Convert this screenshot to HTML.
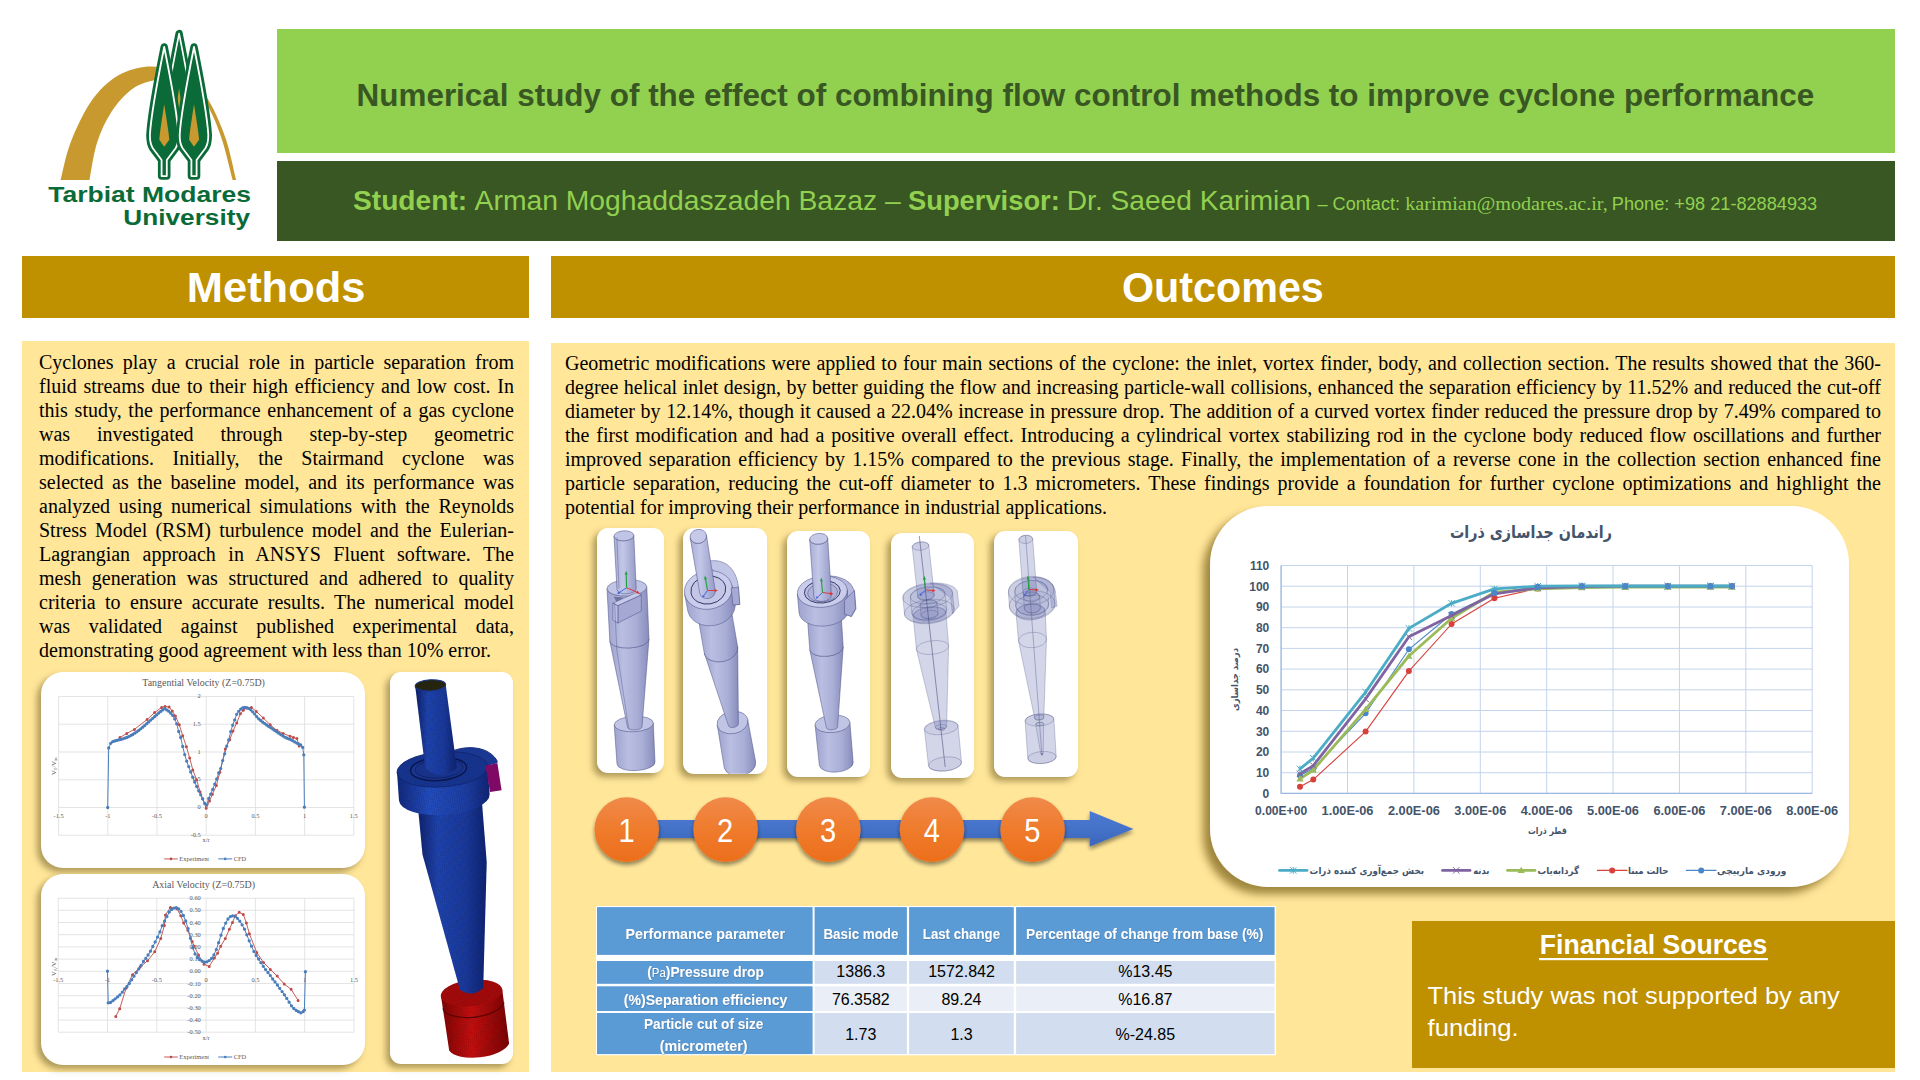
<!DOCTYPE html>
<html lang="en">
<head>
<meta charset="utf-8">
<title>Numerical study of the effect of combining flow control methods to improve cyclone performance</title>
<style>
html,body{margin:0;padding:0;}
body{width:1920px;height:1080px;position:relative;overflow:hidden;background:#fff;font-family:"Liberation Sans","DejaVu Sans",sans-serif;}
.abs{position:absolute;}
.bar-title{left:277px;top:29px;width:1618px;height:124px;background:#92D050;}
.bar-names{left:277px;top:161px;width:1618px;height:80px;background:#385723;}
.hdr{background:#BF9000;top:256px;height:62px;}
.hdr-m{left:22px;width:507px;}
.hdr-o{left:551px;width:1344px;}
.panel{background:#FFE699;}
.panel-m{left:22px;top:341px;width:507px;height:731px;}
.panel-o{left:551px;top:343px;width:1344px;height:729px;}
.para{font-family:"Liberation Serif",serif;font-size:20px;line-height:24px;color:#000;text-align:justify;margin:0;}
.para-m{left:39px;top:350px;width:475px;}
.para-o{left:565px;top:351px;width:1316px;}
.card{background:#fff;box-shadow:-4px 4px 6px rgba(95,78,25,.5);}
.fin{left:1412px;top:921px;width:483px;height:147px;background:#BF9000;}
svg{position:absolute;left:0;top:0;overflow:visible;}
svg text{font-family:"Liberation Sans","DejaVu Sans",sans-serif;}
svg text.fa{font-family:"DejaVu Sans","Liberation Sans",sans-serif;}
svg.ser text{font-family:"Liberation Serif",serif;}
</style>
</head>
<body>
<div class="abs bar-title"></div>
<div class="abs bar-names"></div>
<div class="abs hdr hdr-m"></div>
<div class="abs hdr hdr-o"></div>
<div class="abs panel panel-m"></div>
<div class="abs panel panel-o"></div>

<p class="abs para para-m">Cyclones play a crucial role in particle separation from fluid streams due to their high efficiency and low cost. In this study, the performance enhancement of a gas cyclone was investigated through step-by-step geometric modifications. Initially, the Stairmand cyclone was selected as the baseline model, and its performance was analyzed using numerical simulations with the Reynolds Stress Model (RSM) turbulence model and the Eulerian-Lagrangian approach in ANSYS Fluent software. The mesh generation was structured and adhered to quality criteria to ensure accurate results. The numerical model was validated against published experimental data, demonstrating good agreement with less than 10% error.</p>

<p class="abs para para-o">Geometric modifications were applied to four main sections of the cyclone: the inlet, vortex finder, body, and collection section. The results showed that the 360-degree helical inlet design, by better guiding the flow and increasing particle-wall collisions, enhanced the separation efficiency by 11.52% and reduced the cut-off diameter by 12.14%, though it caused a 22.04% increase in pressure drop. The addition of a curved vortex finder reduced the pressure drop by 7.49% compared to the first modification and had a positive overall effect. Introducing a cylindrical vortex stabilizing rod in the cyclone body reduced flow oscillations and further improved separation efficiency by 1.15% compared to the previous stage. Finally, the implementation of a reverse cone in the collection section enhanced fine particle separation, reducing the cut-off diameter to 1.3 micrometers. These findings provide a foundation for further cyclone optimizations and highlight the potential for improving their performance in industrial applications.</p>

<div class="abs fin"></div>


<!-- LOGO -->
<svg id="logo" width="1920" height="1080" viewBox="0 0 1920 1080">
<path fill="#C8992E" d="M60.6,180C62.3,173.7 65.6,155.3 70.7,142.2C75.8,129.1 83.6,112.4 91.1,101.5C98.6,90.6 106.8,82.8 115.6,77C124.4,71.2 134.7,68.1 144.1,66.9C153.5,65.7 163.8,67.3 172,70C180.2,72.7 186.8,77.8 193,83C199.2,88.2 203.9,92.3 209.3,101.5C214.7,110.7 221.1,125.1 225.6,138.2C230.1,151.3 234.4,173 236.2,180L232.7,180C230.8,173 225.7,150.6 221.5,138.2C217.3,125.8 212.6,114 207.3,105.6C202.1,97.2 196.2,92.3 190,88C183.8,83.7 176.3,81.2 170,80C163.7,78.8 158.5,79.2 152.2,80.7C145.8,82.2 138.7,84.1 131.9,89.3C125.1,94.5 117.3,102.9 111.5,111.7C105.7,120.5 100.9,130.8 97.2,142.2C93.5,153.6 90.8,173.7 89.5,180Z"/>
<defs>
<path id="tree" d="M0,0C-2.6,13 -13.2,68 -14.3,88C-14.4,96 -12.8,99 -11.4,101.3L-2.6,113L-2.6,129.1L2.6,129.1L2.6,113L11.4,101.3C12.8,99 14.4,96 14.3,88C13.2,68 2.6,13 0,0Z"/>
<path id="flame" d="M0,0C1.5,10 4.6,28 5.1,35.4L0,42.5L-4.9,35.4C-4.4,28 -1.5,10 0,0Z"/>
<clipPath id="midclip"><rect x="150" y="20" width="60" height="128"/></clipPath>
</defs>
<g stroke-linejoin="round">
<g clip-path="url(#midclip)"><g transform="translate(179.1,33.6) scale(1.12,1.12)">
<use href="#tree" fill="#0B6B38" stroke="#0B6B38" stroke-width="6.6"/>
<use href="#tree" fill="#0B6B38" stroke="#fff" stroke-width="1.5"/>
</g></g>
<path fill="#C8992E" d="M179.1,88.5C181,100 184,125 184.8,136L179.1,143L173.4,136C174.2,125 177.2,100 179.1,88.5Z"/>
<g transform="translate(164.2,47)">
<use href="#tree" fill="#0B6B38" stroke="#0B6B38" stroke-width="7.4"/>
<use href="#tree" fill="#0B6B38" stroke="#fff" stroke-width="1.8"/>
<use href="#flame" y="57.3" fill="#C8992E"/>
</g>
<g transform="translate(194,47)">
<use href="#tree" fill="#0B6B38" stroke="#0B6B38" stroke-width="7.4"/>
<use href="#tree" fill="#0B6B38" stroke="#fff" stroke-width="1.8"/>
<use href="#flame" y="57.3" fill="#C8992E"/>
</g>
</g>
<g fill="#0B6B38" font-weight="700">
<text x="48.3" y="202.4" font-size="21.4" textLength="202.7" lengthAdjust="spacingAndGlyphs">Tarbiat Modares</text>
<text x="123.3" y="224.8" font-size="21.4" textLength="126.7" lengthAdjust="spacingAndGlyphs">University</text>
</g>
</svg>

<!-- METHODS CHARTS -->
<div class="abs card" style="left:41px;top:672px;width:323.5px;height:196px;border-radius:22px"></div>
<div class="abs card" style="left:41px;top:873.7px;width:323.5px;height:191.8px;border-radius:22px"></div>
<svg id="mcharts" class="ser" width="1920" height="1080" viewBox="0 0 1920 1080">
<g fill="#595959">
<path d="M58.6,696.5V835.2M107.8,696.5V835.2M157,696.5V835.2M206.2,696.5V835.2M255.4,696.5V835.2M304.6,696.5V835.2M353.8,696.5V835.2M58.6,835.2H353.8M58.6,807.5H353.8M58.6,779.8H353.8M58.6,752H353.8M58.6,724.2H353.8M58.6,696.5H353.8" stroke="#D9D9D9" stroke-width="0.7" fill="none"/>
<text x="203.6" y="686" font-size="9.95" text-anchor="middle">Tangential Velocity (Z=0.75D)</text>
<g font-size="6.4"><text x="58.6" y="818" text-anchor="middle">-1.5</text><text x="107.8" y="818" text-anchor="middle">-1</text><text x="157" y="818" text-anchor="middle">-0.5</text><text x="206.2" y="818" text-anchor="middle">0</text><text x="255.4" y="818" text-anchor="middle">0.5</text><text x="304.6" y="818" text-anchor="middle">1</text><text x="353.8" y="818" text-anchor="middle">1.5</text><text x="200.8" y="836.9" text-anchor="end">-0.5</text><text x="200.8" y="809.1" text-anchor="end">0</text><text x="200.8" y="781.4" text-anchor="end">0.5</text><text x="200.8" y="753.6" text-anchor="end">1</text><text x="200.8" y="725.9" text-anchor="end">1.5</text><text x="200.8" y="698.1" text-anchor="end">2</text></g>
<text x="206" y="842" font-size="6.4" text-anchor="middle">x/r</text>
<text transform="translate(56,775) rotate(-90)" font-size="6.6">V<tspan font-size="4.4" dy="1.4">T</tspan><tspan dy="-1.4">/V</tspan><tspan font-size="4.4" dy="1.4">in</tspan></text>
<path d="M119.9,737.5L126.8,733.4L134.4,729.4L147.1,719.5L154.6,712.6L161.6,707.4L165,706.6L169.1,707.1L172.3,711.1L175.4,716L179.3,724.7L182.7,735.7L186.4,746.7L189.7,758.1L192.8,769.9L196.6,779.7L200.1,791.9L202.6,798.8L206.2,808.3L209.5,801.1L212.4,794.2L216.4,785.5L219.9,772.2L225.3,749L229.7,739.8L233,731.1L236.7,723L240.4,713.7L243.4,710.3L246.5,707.9L251.4,707.4L256.3,711.4L263.3,718.1L270.2,724.7L276.9,730.5L283.2,733.4L290.1,736.3L293.4,737.5L296.9,738.6L299.2,745.9" fill="none" stroke="#BE4B48" stroke-width="0.9" stroke-linejoin="round"/><path d="M119.9,737.5m-1.5,0a1.5,1.5 0 1,0 3.0,0a1.5,1.5 0 1,0 -3.0,0M126.8,733.4m-1.5,0a1.5,1.5 0 1,0 3.0,0a1.5,1.5 0 1,0 -3.0,0M134.4,729.4m-1.5,0a1.5,1.5 0 1,0 3.0,0a1.5,1.5 0 1,0 -3.0,0M147.1,719.5m-1.5,0a1.5,1.5 0 1,0 3.0,0a1.5,1.5 0 1,0 -3.0,0M154.6,712.6m-1.5,0a1.5,1.5 0 1,0 3.0,0a1.5,1.5 0 1,0 -3.0,0M161.6,707.4m-1.5,0a1.5,1.5 0 1,0 3.0,0a1.5,1.5 0 1,0 -3.0,0M165,706.6m-1.5,0a1.5,1.5 0 1,0 3.0,0a1.5,1.5 0 1,0 -3.0,0M169.1,707.1m-1.5,0a1.5,1.5 0 1,0 3.0,0a1.5,1.5 0 1,0 -3.0,0M172.3,711.1m-1.5,0a1.5,1.5 0 1,0 3.0,0a1.5,1.5 0 1,0 -3.0,0M175.4,716m-1.5,0a1.5,1.5 0 1,0 3.0,0a1.5,1.5 0 1,0 -3.0,0M179.3,724.7m-1.5,0a1.5,1.5 0 1,0 3.0,0a1.5,1.5 0 1,0 -3.0,0M182.7,735.7m-1.5,0a1.5,1.5 0 1,0 3.0,0a1.5,1.5 0 1,0 -3.0,0M186.4,746.7m-1.5,0a1.5,1.5 0 1,0 3.0,0a1.5,1.5 0 1,0 -3.0,0M189.7,758.1m-1.5,0a1.5,1.5 0 1,0 3.0,0a1.5,1.5 0 1,0 -3.0,0M192.8,769.9m-1.5,0a1.5,1.5 0 1,0 3.0,0a1.5,1.5 0 1,0 -3.0,0M196.6,779.7m-1.5,0a1.5,1.5 0 1,0 3.0,0a1.5,1.5 0 1,0 -3.0,0M200.1,791.9m-1.5,0a1.5,1.5 0 1,0 3.0,0a1.5,1.5 0 1,0 -3.0,0M202.6,798.8m-1.5,0a1.5,1.5 0 1,0 3.0,0a1.5,1.5 0 1,0 -3.0,0M206.2,808.3m-1.5,0a1.5,1.5 0 1,0 3.0,0a1.5,1.5 0 1,0 -3.0,0M209.5,801.1m-1.5,0a1.5,1.5 0 1,0 3.0,0a1.5,1.5 0 1,0 -3.0,0M212.4,794.2m-1.5,0a1.5,1.5 0 1,0 3.0,0a1.5,1.5 0 1,0 -3.0,0M216.4,785.5m-1.5,0a1.5,1.5 0 1,0 3.0,0a1.5,1.5 0 1,0 -3.0,0M219.9,772.2m-1.5,0a1.5,1.5 0 1,0 3.0,0a1.5,1.5 0 1,0 -3.0,0M225.3,749m-1.5,0a1.5,1.5 0 1,0 3.0,0a1.5,1.5 0 1,0 -3.0,0M229.7,739.8m-1.5,0a1.5,1.5 0 1,0 3.0,0a1.5,1.5 0 1,0 -3.0,0M233,731.1m-1.5,0a1.5,1.5 0 1,0 3.0,0a1.5,1.5 0 1,0 -3.0,0M236.7,723m-1.5,0a1.5,1.5 0 1,0 3.0,0a1.5,1.5 0 1,0 -3.0,0M240.4,713.7m-1.5,0a1.5,1.5 0 1,0 3.0,0a1.5,1.5 0 1,0 -3.0,0M243.4,710.3m-1.5,0a1.5,1.5 0 1,0 3.0,0a1.5,1.5 0 1,0 -3.0,0M246.5,707.9m-1.5,0a1.5,1.5 0 1,0 3.0,0a1.5,1.5 0 1,0 -3.0,0M251.4,707.4m-1.5,0a1.5,1.5 0 1,0 3.0,0a1.5,1.5 0 1,0 -3.0,0M256.3,711.4m-1.5,0a1.5,1.5 0 1,0 3.0,0a1.5,1.5 0 1,0 -3.0,0M263.3,718.1m-1.5,0a1.5,1.5 0 1,0 3.0,0a1.5,1.5 0 1,0 -3.0,0M270.2,724.7m-1.5,0a1.5,1.5 0 1,0 3.0,0a1.5,1.5 0 1,0 -3.0,0M276.9,730.5m-1.5,0a1.5,1.5 0 1,0 3.0,0a1.5,1.5 0 1,0 -3.0,0M283.2,733.4m-1.5,0a1.5,1.5 0 1,0 3.0,0a1.5,1.5 0 1,0 -3.0,0M290.1,736.3m-1.5,0a1.5,1.5 0 1,0 3.0,0a1.5,1.5 0 1,0 -3.0,0M293.4,737.5m-1.5,0a1.5,1.5 0 1,0 3.0,0a1.5,1.5 0 1,0 -3.0,0M296.9,738.6m-1.5,0a1.5,1.5 0 1,0 3.0,0a1.5,1.5 0 1,0 -3.0,0M299.2,745.9m-1.5,0a1.5,1.5 0 1,0 3.0,0a1.5,1.5 0 1,0 -3.0,0" fill="#BE4B48"/>
<path d="M107.7,807.5L108.7,747.9L110.7,743.3L112.7,741.6L114.7,741L116.7,740.4L118.7,739.9L120.7,739.4L122.7,738.8L124.7,738.2L126.7,737.5L128.7,736.6L130.7,735.6L132.7,734.5L134.7,733.2L136.7,731.9L138.7,730.4L140.7,728.8L142.7,727.2L144.7,725.5L146.7,723.7L148.7,721.9L150.7,720.1L152.7,718.3L154.7,716.5L156.7,714.8L158.7,713L160.7,711.4L162.7,709.9L164.7,708.7L166.7,709.9L168.7,711.2L170.7,713.2L172.7,715.4L174.7,718.9L176.7,723.8L178.7,731.5L180.7,737.5L182.7,746.4L184.7,754.6L186.7,761.2L188.7,766.6L190.7,771.9L192.7,777.2L194.7,782L196.7,786.5L198.7,790.8L200.7,794.8L202.7,798.8L204.7,803.5L206.7,804.9L208.7,798.4L210.7,794.1L212.7,789.4L214.7,784.1L216.7,779L218.7,773L220.7,768.6L222.7,760.6L224.7,753.8L226.7,746.2L228.7,740L230.7,731.6L232.7,725.2L234.7,719.9L236.7,714.3L238.7,711.3L240.7,709.2L242.7,708L244.7,707.4L246.7,707.6L248.7,708.4L250.7,709.8L252.7,711.8L254.7,714.1L256.7,716.7L258.7,718.8L260.7,720.5L262.7,722.2L264.7,723.6L266.7,725L268.7,726.4L270.7,727.7L272.7,729L274.7,730.4L276.7,731.8L278.7,733.2L280.7,734.6L282.7,735.8L284.7,737.1L286.7,738L288.7,738.8L290.7,739.6L292.7,740.7L294.7,741.9L296.7,743.1L298.7,744L300.7,744.9L302.7,747.4L303.8,754.8L304.4,807.2" fill="none" stroke="#4A7EBB" stroke-width="1.0" stroke-linejoin="round"/><path d="M107.7,807.5m-1.65,0a1.65,1.65 0 1,0 3.3,0a1.65,1.65 0 1,0 -3.3,0M108.7,747.9m-1.65,0a1.65,1.65 0 1,0 3.3,0a1.65,1.65 0 1,0 -3.3,0M110.7,743.3m-1.65,0a1.65,1.65 0 1,0 3.3,0a1.65,1.65 0 1,0 -3.3,0M112.7,741.6m-1.65,0a1.65,1.65 0 1,0 3.3,0a1.65,1.65 0 1,0 -3.3,0M114.7,741m-1.65,0a1.65,1.65 0 1,0 3.3,0a1.65,1.65 0 1,0 -3.3,0M116.7,740.4m-1.65,0a1.65,1.65 0 1,0 3.3,0a1.65,1.65 0 1,0 -3.3,0M118.7,739.9m-1.65,0a1.65,1.65 0 1,0 3.3,0a1.65,1.65 0 1,0 -3.3,0M120.7,739.4m-1.65,0a1.65,1.65 0 1,0 3.3,0a1.65,1.65 0 1,0 -3.3,0M122.7,738.8m-1.65,0a1.65,1.65 0 1,0 3.3,0a1.65,1.65 0 1,0 -3.3,0M124.7,738.2m-1.65,0a1.65,1.65 0 1,0 3.3,0a1.65,1.65 0 1,0 -3.3,0M126.7,737.5m-1.65,0a1.65,1.65 0 1,0 3.3,0a1.65,1.65 0 1,0 -3.3,0M128.7,736.6m-1.65,0a1.65,1.65 0 1,0 3.3,0a1.65,1.65 0 1,0 -3.3,0M130.7,735.6m-1.65,0a1.65,1.65 0 1,0 3.3,0a1.65,1.65 0 1,0 -3.3,0M132.7,734.5m-1.65,0a1.65,1.65 0 1,0 3.3,0a1.65,1.65 0 1,0 -3.3,0M134.7,733.2m-1.65,0a1.65,1.65 0 1,0 3.3,0a1.65,1.65 0 1,0 -3.3,0M136.7,731.9m-1.65,0a1.65,1.65 0 1,0 3.3,0a1.65,1.65 0 1,0 -3.3,0M138.7,730.4m-1.65,0a1.65,1.65 0 1,0 3.3,0a1.65,1.65 0 1,0 -3.3,0M140.7,728.8m-1.65,0a1.65,1.65 0 1,0 3.3,0a1.65,1.65 0 1,0 -3.3,0M142.7,727.2m-1.65,0a1.65,1.65 0 1,0 3.3,0a1.65,1.65 0 1,0 -3.3,0M144.7,725.5m-1.65,0a1.65,1.65 0 1,0 3.3,0a1.65,1.65 0 1,0 -3.3,0M146.7,723.7m-1.65,0a1.65,1.65 0 1,0 3.3,0a1.65,1.65 0 1,0 -3.3,0M148.7,721.9m-1.65,0a1.65,1.65 0 1,0 3.3,0a1.65,1.65 0 1,0 -3.3,0M150.7,720.1m-1.65,0a1.65,1.65 0 1,0 3.3,0a1.65,1.65 0 1,0 -3.3,0M152.7,718.3m-1.65,0a1.65,1.65 0 1,0 3.3,0a1.65,1.65 0 1,0 -3.3,0M154.7,716.5m-1.65,0a1.65,1.65 0 1,0 3.3,0a1.65,1.65 0 1,0 -3.3,0M156.7,714.8m-1.65,0a1.65,1.65 0 1,0 3.3,0a1.65,1.65 0 1,0 -3.3,0M158.7,713m-1.65,0a1.65,1.65 0 1,0 3.3,0a1.65,1.65 0 1,0 -3.3,0M160.7,711.4m-1.65,0a1.65,1.65 0 1,0 3.3,0a1.65,1.65 0 1,0 -3.3,0M162.7,709.9m-1.65,0a1.65,1.65 0 1,0 3.3,0a1.65,1.65 0 1,0 -3.3,0M164.7,708.7m-1.65,0a1.65,1.65 0 1,0 3.3,0a1.65,1.65 0 1,0 -3.3,0M166.7,709.9m-1.65,0a1.65,1.65 0 1,0 3.3,0a1.65,1.65 0 1,0 -3.3,0M168.7,711.2m-1.65,0a1.65,1.65 0 1,0 3.3,0a1.65,1.65 0 1,0 -3.3,0M170.7,713.2m-1.65,0a1.65,1.65 0 1,0 3.3,0a1.65,1.65 0 1,0 -3.3,0M172.7,715.4m-1.65,0a1.65,1.65 0 1,0 3.3,0a1.65,1.65 0 1,0 -3.3,0M174.7,718.9m-1.65,0a1.65,1.65 0 1,0 3.3,0a1.65,1.65 0 1,0 -3.3,0M176.7,723.8m-1.65,0a1.65,1.65 0 1,0 3.3,0a1.65,1.65 0 1,0 -3.3,0M178.7,731.5m-1.65,0a1.65,1.65 0 1,0 3.3,0a1.65,1.65 0 1,0 -3.3,0M180.7,737.5m-1.65,0a1.65,1.65 0 1,0 3.3,0a1.65,1.65 0 1,0 -3.3,0M182.7,746.4m-1.65,0a1.65,1.65 0 1,0 3.3,0a1.65,1.65 0 1,0 -3.3,0M184.7,754.6m-1.65,0a1.65,1.65 0 1,0 3.3,0a1.65,1.65 0 1,0 -3.3,0M186.7,761.2m-1.65,0a1.65,1.65 0 1,0 3.3,0a1.65,1.65 0 1,0 -3.3,0M188.7,766.6m-1.65,0a1.65,1.65 0 1,0 3.3,0a1.65,1.65 0 1,0 -3.3,0M190.7,771.9m-1.65,0a1.65,1.65 0 1,0 3.3,0a1.65,1.65 0 1,0 -3.3,0M192.7,777.2m-1.65,0a1.65,1.65 0 1,0 3.3,0a1.65,1.65 0 1,0 -3.3,0M194.7,782m-1.65,0a1.65,1.65 0 1,0 3.3,0a1.65,1.65 0 1,0 -3.3,0M196.7,786.5m-1.65,0a1.65,1.65 0 1,0 3.3,0a1.65,1.65 0 1,0 -3.3,0M198.7,790.8m-1.65,0a1.65,1.65 0 1,0 3.3,0a1.65,1.65 0 1,0 -3.3,0M200.7,794.8m-1.65,0a1.65,1.65 0 1,0 3.3,0a1.65,1.65 0 1,0 -3.3,0M202.7,798.8m-1.65,0a1.65,1.65 0 1,0 3.3,0a1.65,1.65 0 1,0 -3.3,0M204.7,803.5m-1.65,0a1.65,1.65 0 1,0 3.3,0a1.65,1.65 0 1,0 -3.3,0M206.7,804.9m-1.65,0a1.65,1.65 0 1,0 3.3,0a1.65,1.65 0 1,0 -3.3,0M208.7,798.4m-1.65,0a1.65,1.65 0 1,0 3.3,0a1.65,1.65 0 1,0 -3.3,0M210.7,794.1m-1.65,0a1.65,1.65 0 1,0 3.3,0a1.65,1.65 0 1,0 -3.3,0M212.7,789.4m-1.65,0a1.65,1.65 0 1,0 3.3,0a1.65,1.65 0 1,0 -3.3,0M214.7,784.1m-1.65,0a1.65,1.65 0 1,0 3.3,0a1.65,1.65 0 1,0 -3.3,0M216.7,779m-1.65,0a1.65,1.65 0 1,0 3.3,0a1.65,1.65 0 1,0 -3.3,0M218.7,773m-1.65,0a1.65,1.65 0 1,0 3.3,0a1.65,1.65 0 1,0 -3.3,0M220.7,768.6m-1.65,0a1.65,1.65 0 1,0 3.3,0a1.65,1.65 0 1,0 -3.3,0M222.7,760.6m-1.65,0a1.65,1.65 0 1,0 3.3,0a1.65,1.65 0 1,0 -3.3,0M224.7,753.8m-1.65,0a1.65,1.65 0 1,0 3.3,0a1.65,1.65 0 1,0 -3.3,0M226.7,746.2m-1.65,0a1.65,1.65 0 1,0 3.3,0a1.65,1.65 0 1,0 -3.3,0M228.7,740m-1.65,0a1.65,1.65 0 1,0 3.3,0a1.65,1.65 0 1,0 -3.3,0M230.7,731.6m-1.65,0a1.65,1.65 0 1,0 3.3,0a1.65,1.65 0 1,0 -3.3,0M232.7,725.2m-1.65,0a1.65,1.65 0 1,0 3.3,0a1.65,1.65 0 1,0 -3.3,0M234.7,719.9m-1.65,0a1.65,1.65 0 1,0 3.3,0a1.65,1.65 0 1,0 -3.3,0M236.7,714.3m-1.65,0a1.65,1.65 0 1,0 3.3,0a1.65,1.65 0 1,0 -3.3,0M238.7,711.3m-1.65,0a1.65,1.65 0 1,0 3.3,0a1.65,1.65 0 1,0 -3.3,0M240.7,709.2m-1.65,0a1.65,1.65 0 1,0 3.3,0a1.65,1.65 0 1,0 -3.3,0M242.7,708m-1.65,0a1.65,1.65 0 1,0 3.3,0a1.65,1.65 0 1,0 -3.3,0M244.7,707.4m-1.65,0a1.65,1.65 0 1,0 3.3,0a1.65,1.65 0 1,0 -3.3,0M246.7,707.6m-1.65,0a1.65,1.65 0 1,0 3.3,0a1.65,1.65 0 1,0 -3.3,0M248.7,708.4m-1.65,0a1.65,1.65 0 1,0 3.3,0a1.65,1.65 0 1,0 -3.3,0M250.7,709.8m-1.65,0a1.65,1.65 0 1,0 3.3,0a1.65,1.65 0 1,0 -3.3,0M252.7,711.8m-1.65,0a1.65,1.65 0 1,0 3.3,0a1.65,1.65 0 1,0 -3.3,0M254.7,714.1m-1.65,0a1.65,1.65 0 1,0 3.3,0a1.65,1.65 0 1,0 -3.3,0M256.7,716.7m-1.65,0a1.65,1.65 0 1,0 3.3,0a1.65,1.65 0 1,0 -3.3,0M258.7,718.8m-1.65,0a1.65,1.65 0 1,0 3.3,0a1.65,1.65 0 1,0 -3.3,0M260.7,720.5m-1.65,0a1.65,1.65 0 1,0 3.3,0a1.65,1.65 0 1,0 -3.3,0M262.7,722.2m-1.65,0a1.65,1.65 0 1,0 3.3,0a1.65,1.65 0 1,0 -3.3,0M264.7,723.6m-1.65,0a1.65,1.65 0 1,0 3.3,0a1.65,1.65 0 1,0 -3.3,0M266.7,725m-1.65,0a1.65,1.65 0 1,0 3.3,0a1.65,1.65 0 1,0 -3.3,0M268.7,726.4m-1.65,0a1.65,1.65 0 1,0 3.3,0a1.65,1.65 0 1,0 -3.3,0M270.7,727.7m-1.65,0a1.65,1.65 0 1,0 3.3,0a1.65,1.65 0 1,0 -3.3,0M272.7,729m-1.65,0a1.65,1.65 0 1,0 3.3,0a1.65,1.65 0 1,0 -3.3,0M274.7,730.4m-1.65,0a1.65,1.65 0 1,0 3.3,0a1.65,1.65 0 1,0 -3.3,0M276.7,731.8m-1.65,0a1.65,1.65 0 1,0 3.3,0a1.65,1.65 0 1,0 -3.3,0M278.7,733.2m-1.65,0a1.65,1.65 0 1,0 3.3,0a1.65,1.65 0 1,0 -3.3,0M280.7,734.6m-1.65,0a1.65,1.65 0 1,0 3.3,0a1.65,1.65 0 1,0 -3.3,0M282.7,735.8m-1.65,0a1.65,1.65 0 1,0 3.3,0a1.65,1.65 0 1,0 -3.3,0M284.7,737.1m-1.65,0a1.65,1.65 0 1,0 3.3,0a1.65,1.65 0 1,0 -3.3,0M286.7,738m-1.65,0a1.65,1.65 0 1,0 3.3,0a1.65,1.65 0 1,0 -3.3,0M288.7,738.8m-1.65,0a1.65,1.65 0 1,0 3.3,0a1.65,1.65 0 1,0 -3.3,0M290.7,739.6m-1.65,0a1.65,1.65 0 1,0 3.3,0a1.65,1.65 0 1,0 -3.3,0M292.7,740.7m-1.65,0a1.65,1.65 0 1,0 3.3,0a1.65,1.65 0 1,0 -3.3,0M294.7,741.9m-1.65,0a1.65,1.65 0 1,0 3.3,0a1.65,1.65 0 1,0 -3.3,0M296.7,743.1m-1.65,0a1.65,1.65 0 1,0 3.3,0a1.65,1.65 0 1,0 -3.3,0M298.7,744m-1.65,0a1.65,1.65 0 1,0 3.3,0a1.65,1.65 0 1,0 -3.3,0M300.7,744.9m-1.65,0a1.65,1.65 0 1,0 3.3,0a1.65,1.65 0 1,0 -3.3,0M302.7,747.4m-1.65,0a1.65,1.65 0 1,0 3.3,0a1.65,1.65 0 1,0 -3.3,0M303.8,754.8m-1.65,0a1.65,1.65 0 1,0 3.3,0a1.65,1.65 0 1,0 -3.3,0M304.4,807.2m-1.65,0a1.65,1.65 0 1,0 3.3,0a1.65,1.65 0 1,0 -3.3,0" fill="#4A7EBB"/>
<path d="M164.2,858.9H177.8" stroke="#BE4B48" stroke-width="0.9"/><circle cx="171" cy="858.9" r="1.3" fill="#BE4B48"/><path d="M218.2,858.9H232.2" stroke="#4A7EBB" stroke-width="1"/><circle cx="225.2" cy="858.9" r="1.3" fill="#4A7EBB"/><text x="179.3" y="861.0" font-size="6.4">Experiment</text><text x="233.8" y="861.0" font-size="6.4">CFD</text>
<path d="M58.2,898.2V1032.2M107.5,898.2V1032.2M156.8,898.2V1032.2M206.1,898.2V1032.2M255.4,898.2V1032.2M304.7,898.2V1032.2M354,898.2V1032.2M58.2,1032.2H354M58.2,1020.1H354M58.2,1007.9H354M58.2,995.7H354M58.2,983.5H354M58.2,971.3H354M58.2,959.1H354M58.2,946.9H354M58.2,934.7H354M58.2,922.5H354M58.2,910.3H354M58.2,898.2H354" stroke="#D9D9D9" stroke-width="0.7" fill="none"/>
<text x="203.6" y="887.5" font-size="9.95" text-anchor="middle">Axial Velocity (Z=0.75D)</text>
<g font-size="6.4"><text x="58.2" y="982" text-anchor="middle">-1.5</text><text x="107.5" y="982" text-anchor="middle">-1</text><text x="156.8" y="982" text-anchor="middle">-0.5</text><text x="206.1" y="982" text-anchor="middle">0</text><text x="255.4" y="982" text-anchor="middle">0.5</text><text x="304.7" y="982" text-anchor="middle">1</text><text x="354" y="982" text-anchor="middle">1.5</text><text x="200.8" y="1034.2" text-anchor="end">-0.50</text><text x="200.8" y="1022.1" text-anchor="end">-0.40</text><text x="200.8" y="1009.9" text-anchor="end">-0.30</text><text x="200.8" y="997.7" text-anchor="end">-0.20</text><text x="200.8" y="985.5" text-anchor="end">-0.10</text><text x="200.8" y="973.3" text-anchor="end">0.00</text><text x="200.8" y="961.1" text-anchor="end">0.10</text><text x="200.8" y="948.9" text-anchor="end">0.20</text><text x="200.8" y="936.7" text-anchor="end">0.30</text><text x="200.8" y="924.5" text-anchor="end">0.40</text><text x="200.8" y="912.3" text-anchor="end">0.50</text><text x="200.8" y="900.2" text-anchor="end">0.60</text></g>
<text x="206" y="1040" font-size="6.4" text-anchor="middle">x/r</text>
<text transform="translate(56,976) rotate(-90)" font-size="6.6">V<tspan font-size="4.4" dy="1.4">A</tspan><tspan dy="-1.4">/V</tspan><tspan font-size="4.4" dy="1.4">in</tspan></text>
<path d="M115.8,1016.4L119.7,1008.8L126.2,987.9L132.5,974.7L140.1,967.1L147.5,960.8L154.7,951.8L160.7,938.6L164.4,925.4L165.4,915L170.4,907.4L176.9,908.8L180.8,915.7L183.6,922.9L187.8,930.3L192.2,941.4L194.3,946.2L198.5,955L204,964.3L209.2,966.4L214.4,958.1L217.6,953.2L220.7,946.2L225.3,938.6L229.4,929.2L232.5,922.4L235.3,915.7L239.2,912.2L243.3,914.6L246.4,923.1L249.4,933.8L256.8,952.5L263.5,962.5L270.3,969.4L277.2,976.1L284.2,984L291.1,989.3L298.1,1000.4" fill="none" stroke="#BE4B48" stroke-width="0.9" stroke-linejoin="round"/><path d="M115.8,1016.4m-1.5,0a1.5,1.5 0 1,0 3.0,0a1.5,1.5 0 1,0 -3.0,0M119.7,1008.8m-1.5,0a1.5,1.5 0 1,0 3.0,0a1.5,1.5 0 1,0 -3.0,0M126.2,987.9m-1.5,0a1.5,1.5 0 1,0 3.0,0a1.5,1.5 0 1,0 -3.0,0M132.5,974.7m-1.5,0a1.5,1.5 0 1,0 3.0,0a1.5,1.5 0 1,0 -3.0,0M140.1,967.1m-1.5,0a1.5,1.5 0 1,0 3.0,0a1.5,1.5 0 1,0 -3.0,0M147.5,960.8m-1.5,0a1.5,1.5 0 1,0 3.0,0a1.5,1.5 0 1,0 -3.0,0M154.7,951.8m-1.5,0a1.5,1.5 0 1,0 3.0,0a1.5,1.5 0 1,0 -3.0,0M160.7,938.6m-1.5,0a1.5,1.5 0 1,0 3.0,0a1.5,1.5 0 1,0 -3.0,0M164.4,925.4m-1.5,0a1.5,1.5 0 1,0 3.0,0a1.5,1.5 0 1,0 -3.0,0M165.4,915m-1.5,0a1.5,1.5 0 1,0 3.0,0a1.5,1.5 0 1,0 -3.0,0M170.4,907.4m-1.5,0a1.5,1.5 0 1,0 3.0,0a1.5,1.5 0 1,0 -3.0,0M176.9,908.8m-1.5,0a1.5,1.5 0 1,0 3.0,0a1.5,1.5 0 1,0 -3.0,0M180.8,915.7m-1.5,0a1.5,1.5 0 1,0 3.0,0a1.5,1.5 0 1,0 -3.0,0M183.6,922.9m-1.5,0a1.5,1.5 0 1,0 3.0,0a1.5,1.5 0 1,0 -3.0,0M187.8,930.3m-1.5,0a1.5,1.5 0 1,0 3.0,0a1.5,1.5 0 1,0 -3.0,0M192.2,941.4m-1.5,0a1.5,1.5 0 1,0 3.0,0a1.5,1.5 0 1,0 -3.0,0M194.3,946.2m-1.5,0a1.5,1.5 0 1,0 3.0,0a1.5,1.5 0 1,0 -3.0,0M198.5,955m-1.5,0a1.5,1.5 0 1,0 3.0,0a1.5,1.5 0 1,0 -3.0,0M204,964.3m-1.5,0a1.5,1.5 0 1,0 3.0,0a1.5,1.5 0 1,0 -3.0,0M209.2,966.4m-1.5,0a1.5,1.5 0 1,0 3.0,0a1.5,1.5 0 1,0 -3.0,0M214.4,958.1m-1.5,0a1.5,1.5 0 1,0 3.0,0a1.5,1.5 0 1,0 -3.0,0M217.6,953.2m-1.5,0a1.5,1.5 0 1,0 3.0,0a1.5,1.5 0 1,0 -3.0,0M220.7,946.2m-1.5,0a1.5,1.5 0 1,0 3.0,0a1.5,1.5 0 1,0 -3.0,0M225.3,938.6m-1.5,0a1.5,1.5 0 1,0 3.0,0a1.5,1.5 0 1,0 -3.0,0M229.4,929.2m-1.5,0a1.5,1.5 0 1,0 3.0,0a1.5,1.5 0 1,0 -3.0,0M232.5,922.4m-1.5,0a1.5,1.5 0 1,0 3.0,0a1.5,1.5 0 1,0 -3.0,0M235.3,915.7m-1.5,0a1.5,1.5 0 1,0 3.0,0a1.5,1.5 0 1,0 -3.0,0M239.2,912.2m-1.5,0a1.5,1.5 0 1,0 3.0,0a1.5,1.5 0 1,0 -3.0,0M243.3,914.6m-1.5,0a1.5,1.5 0 1,0 3.0,0a1.5,1.5 0 1,0 -3.0,0M246.4,923.1m-1.5,0a1.5,1.5 0 1,0 3.0,0a1.5,1.5 0 1,0 -3.0,0M249.4,933.8m-1.5,0a1.5,1.5 0 1,0 3.0,0a1.5,1.5 0 1,0 -3.0,0M256.8,952.5m-1.5,0a1.5,1.5 0 1,0 3.0,0a1.5,1.5 0 1,0 -3.0,0M263.5,962.5m-1.5,0a1.5,1.5 0 1,0 3.0,0a1.5,1.5 0 1,0 -3.0,0M270.3,969.4m-1.5,0a1.5,1.5 0 1,0 3.0,0a1.5,1.5 0 1,0 -3.0,0M277.2,976.1m-1.5,0a1.5,1.5 0 1,0 3.0,0a1.5,1.5 0 1,0 -3.0,0M284.2,984m-1.5,0a1.5,1.5 0 1,0 3.0,0a1.5,1.5 0 1,0 -3.0,0M291.1,989.3m-1.5,0a1.5,1.5 0 1,0 3.0,0a1.5,1.5 0 1,0 -3.0,0M298.1,1000.4m-1.5,0a1.5,1.5 0 1,0 3.0,0a1.5,1.5 0 1,0 -3.0,0" fill="#BE4B48"/>
<path d="M107.5,971.2L108.2,1002.8L110.5,1002.5L112.9,1000.7L115.2,998.8L117.6,996.9L119.9,994.9L122.3,992.2L124.6,988.9L127,986.5L129.3,983.5L131.7,979.8L134,976.2L136.4,972.5L138.7,969L141.1,965.4L143.4,961.5L145.8,958.3L148.1,955L150.5,951.2L152.8,946.5L155.2,941.9L157.5,937.1L159.9,931.9L162.2,925.7L164.6,921.1L166.9,916.5L169.3,912L171.6,909.4L174,908.1L176.3,907.7L178.7,908.8L181,911.4L183.4,915.5L185.7,921L188.1,928.6L190.4,938.3L192.8,947.8L195.1,953.9L197.5,957.5L199.8,959.7L202.2,961.2L204.5,962.2L206.9,961.8L209.2,960.6L211.6,958.3L213.9,954.8L216.3,949.6L218.6,942.7L221,935.2L223.3,928.5L225.7,923.1L228,919L230.4,916.6L232.7,915.8L235.1,916.3L237.4,918.3L239.8,921.2L242.1,924.8L244.5,929.2L246.8,934.8L249.2,940.8L251.5,946.2L253.9,951.4L256.2,955.5L258.6,959L260.9,962.7L263.3,966.3L265.6,969.6L268,972.5L270.3,975.6L272.7,979L275,981.9L277.4,985L279.7,988.3L282.1,991.6L284.4,994.8L286.8,998.4L289.1,1002.2L291.5,1005.8L293.8,1008.5L296.2,1010.4L298.5,1011.7L300.9,1012.8L303.2,1011.6L304.4,1010.1L305.4,971.7" fill="none" stroke="#4A7EBB" stroke-width="1.0" stroke-linejoin="round"/><path d="M107.5,971.2m-1.65,0a1.65,1.65 0 1,0 3.3,0a1.65,1.65 0 1,0 -3.3,0M108.2,1002.8m-1.65,0a1.65,1.65 0 1,0 3.3,0a1.65,1.65 0 1,0 -3.3,0M110.5,1002.5m-1.65,0a1.65,1.65 0 1,0 3.3,0a1.65,1.65 0 1,0 -3.3,0M112.9,1000.7m-1.65,0a1.65,1.65 0 1,0 3.3,0a1.65,1.65 0 1,0 -3.3,0M115.2,998.8m-1.65,0a1.65,1.65 0 1,0 3.3,0a1.65,1.65 0 1,0 -3.3,0M117.6,996.9m-1.65,0a1.65,1.65 0 1,0 3.3,0a1.65,1.65 0 1,0 -3.3,0M119.9,994.9m-1.65,0a1.65,1.65 0 1,0 3.3,0a1.65,1.65 0 1,0 -3.3,0M122.3,992.2m-1.65,0a1.65,1.65 0 1,0 3.3,0a1.65,1.65 0 1,0 -3.3,0M124.6,988.9m-1.65,0a1.65,1.65 0 1,0 3.3,0a1.65,1.65 0 1,0 -3.3,0M127,986.5m-1.65,0a1.65,1.65 0 1,0 3.3,0a1.65,1.65 0 1,0 -3.3,0M129.3,983.5m-1.65,0a1.65,1.65 0 1,0 3.3,0a1.65,1.65 0 1,0 -3.3,0M131.7,979.8m-1.65,0a1.65,1.65 0 1,0 3.3,0a1.65,1.65 0 1,0 -3.3,0M134,976.2m-1.65,0a1.65,1.65 0 1,0 3.3,0a1.65,1.65 0 1,0 -3.3,0M136.4,972.5m-1.65,0a1.65,1.65 0 1,0 3.3,0a1.65,1.65 0 1,0 -3.3,0M138.7,969m-1.65,0a1.65,1.65 0 1,0 3.3,0a1.65,1.65 0 1,0 -3.3,0M141.1,965.4m-1.65,0a1.65,1.65 0 1,0 3.3,0a1.65,1.65 0 1,0 -3.3,0M143.4,961.5m-1.65,0a1.65,1.65 0 1,0 3.3,0a1.65,1.65 0 1,0 -3.3,0M145.8,958.3m-1.65,0a1.65,1.65 0 1,0 3.3,0a1.65,1.65 0 1,0 -3.3,0M148.1,955m-1.65,0a1.65,1.65 0 1,0 3.3,0a1.65,1.65 0 1,0 -3.3,0M150.5,951.2m-1.65,0a1.65,1.65 0 1,0 3.3,0a1.65,1.65 0 1,0 -3.3,0M152.8,946.5m-1.65,0a1.65,1.65 0 1,0 3.3,0a1.65,1.65 0 1,0 -3.3,0M155.2,941.9m-1.65,0a1.65,1.65 0 1,0 3.3,0a1.65,1.65 0 1,0 -3.3,0M157.5,937.1m-1.65,0a1.65,1.65 0 1,0 3.3,0a1.65,1.65 0 1,0 -3.3,0M159.9,931.9m-1.65,0a1.65,1.65 0 1,0 3.3,0a1.65,1.65 0 1,0 -3.3,0M162.2,925.7m-1.65,0a1.65,1.65 0 1,0 3.3,0a1.65,1.65 0 1,0 -3.3,0M164.6,921.1m-1.65,0a1.65,1.65 0 1,0 3.3,0a1.65,1.65 0 1,0 -3.3,0M166.9,916.5m-1.65,0a1.65,1.65 0 1,0 3.3,0a1.65,1.65 0 1,0 -3.3,0M169.3,912m-1.65,0a1.65,1.65 0 1,0 3.3,0a1.65,1.65 0 1,0 -3.3,0M171.6,909.4m-1.65,0a1.65,1.65 0 1,0 3.3,0a1.65,1.65 0 1,0 -3.3,0M174,908.1m-1.65,0a1.65,1.65 0 1,0 3.3,0a1.65,1.65 0 1,0 -3.3,0M176.3,907.7m-1.65,0a1.65,1.65 0 1,0 3.3,0a1.65,1.65 0 1,0 -3.3,0M178.7,908.8m-1.65,0a1.65,1.65 0 1,0 3.3,0a1.65,1.65 0 1,0 -3.3,0M181,911.4m-1.65,0a1.65,1.65 0 1,0 3.3,0a1.65,1.65 0 1,0 -3.3,0M183.4,915.5m-1.65,0a1.65,1.65 0 1,0 3.3,0a1.65,1.65 0 1,0 -3.3,0M185.7,921m-1.65,0a1.65,1.65 0 1,0 3.3,0a1.65,1.65 0 1,0 -3.3,0M188.1,928.6m-1.65,0a1.65,1.65 0 1,0 3.3,0a1.65,1.65 0 1,0 -3.3,0M190.4,938.3m-1.65,0a1.65,1.65 0 1,0 3.3,0a1.65,1.65 0 1,0 -3.3,0M192.8,947.8m-1.65,0a1.65,1.65 0 1,0 3.3,0a1.65,1.65 0 1,0 -3.3,0M195.1,953.9m-1.65,0a1.65,1.65 0 1,0 3.3,0a1.65,1.65 0 1,0 -3.3,0M197.5,957.5m-1.65,0a1.65,1.65 0 1,0 3.3,0a1.65,1.65 0 1,0 -3.3,0M199.8,959.7m-1.65,0a1.65,1.65 0 1,0 3.3,0a1.65,1.65 0 1,0 -3.3,0M202.2,961.2m-1.65,0a1.65,1.65 0 1,0 3.3,0a1.65,1.65 0 1,0 -3.3,0M204.5,962.2m-1.65,0a1.65,1.65 0 1,0 3.3,0a1.65,1.65 0 1,0 -3.3,0M206.9,961.8m-1.65,0a1.65,1.65 0 1,0 3.3,0a1.65,1.65 0 1,0 -3.3,0M209.2,960.6m-1.65,0a1.65,1.65 0 1,0 3.3,0a1.65,1.65 0 1,0 -3.3,0M211.6,958.3m-1.65,0a1.65,1.65 0 1,0 3.3,0a1.65,1.65 0 1,0 -3.3,0M213.9,954.8m-1.65,0a1.65,1.65 0 1,0 3.3,0a1.65,1.65 0 1,0 -3.3,0M216.3,949.6m-1.65,0a1.65,1.65 0 1,0 3.3,0a1.65,1.65 0 1,0 -3.3,0M218.6,942.7m-1.65,0a1.65,1.65 0 1,0 3.3,0a1.65,1.65 0 1,0 -3.3,0M221,935.2m-1.65,0a1.65,1.65 0 1,0 3.3,0a1.65,1.65 0 1,0 -3.3,0M223.3,928.5m-1.65,0a1.65,1.65 0 1,0 3.3,0a1.65,1.65 0 1,0 -3.3,0M225.7,923.1m-1.65,0a1.65,1.65 0 1,0 3.3,0a1.65,1.65 0 1,0 -3.3,0M228,919m-1.65,0a1.65,1.65 0 1,0 3.3,0a1.65,1.65 0 1,0 -3.3,0M230.4,916.6m-1.65,0a1.65,1.65 0 1,0 3.3,0a1.65,1.65 0 1,0 -3.3,0M232.7,915.8m-1.65,0a1.65,1.65 0 1,0 3.3,0a1.65,1.65 0 1,0 -3.3,0M235.1,916.3m-1.65,0a1.65,1.65 0 1,0 3.3,0a1.65,1.65 0 1,0 -3.3,0M237.4,918.3m-1.65,0a1.65,1.65 0 1,0 3.3,0a1.65,1.65 0 1,0 -3.3,0M239.8,921.2m-1.65,0a1.65,1.65 0 1,0 3.3,0a1.65,1.65 0 1,0 -3.3,0M242.1,924.8m-1.65,0a1.65,1.65 0 1,0 3.3,0a1.65,1.65 0 1,0 -3.3,0M244.5,929.2m-1.65,0a1.65,1.65 0 1,0 3.3,0a1.65,1.65 0 1,0 -3.3,0M246.8,934.8m-1.65,0a1.65,1.65 0 1,0 3.3,0a1.65,1.65 0 1,0 -3.3,0M249.2,940.8m-1.65,0a1.65,1.65 0 1,0 3.3,0a1.65,1.65 0 1,0 -3.3,0M251.5,946.2m-1.65,0a1.65,1.65 0 1,0 3.3,0a1.65,1.65 0 1,0 -3.3,0M253.9,951.4m-1.65,0a1.65,1.65 0 1,0 3.3,0a1.65,1.65 0 1,0 -3.3,0M256.2,955.5m-1.65,0a1.65,1.65 0 1,0 3.3,0a1.65,1.65 0 1,0 -3.3,0M258.6,959m-1.65,0a1.65,1.65 0 1,0 3.3,0a1.65,1.65 0 1,0 -3.3,0M260.9,962.7m-1.65,0a1.65,1.65 0 1,0 3.3,0a1.65,1.65 0 1,0 -3.3,0M263.3,966.3m-1.65,0a1.65,1.65 0 1,0 3.3,0a1.65,1.65 0 1,0 -3.3,0M265.6,969.6m-1.65,0a1.65,1.65 0 1,0 3.3,0a1.65,1.65 0 1,0 -3.3,0M268,972.5m-1.65,0a1.65,1.65 0 1,0 3.3,0a1.65,1.65 0 1,0 -3.3,0M270.3,975.6m-1.65,0a1.65,1.65 0 1,0 3.3,0a1.65,1.65 0 1,0 -3.3,0M272.7,979m-1.65,0a1.65,1.65 0 1,0 3.3,0a1.65,1.65 0 1,0 -3.3,0M275,981.9m-1.65,0a1.65,1.65 0 1,0 3.3,0a1.65,1.65 0 1,0 -3.3,0M277.4,985m-1.65,0a1.65,1.65 0 1,0 3.3,0a1.65,1.65 0 1,0 -3.3,0M279.7,988.3m-1.65,0a1.65,1.65 0 1,0 3.3,0a1.65,1.65 0 1,0 -3.3,0M282.1,991.6m-1.65,0a1.65,1.65 0 1,0 3.3,0a1.65,1.65 0 1,0 -3.3,0M284.4,994.8m-1.65,0a1.65,1.65 0 1,0 3.3,0a1.65,1.65 0 1,0 -3.3,0M286.8,998.4m-1.65,0a1.65,1.65 0 1,0 3.3,0a1.65,1.65 0 1,0 -3.3,0M289.1,1002.2m-1.65,0a1.65,1.65 0 1,0 3.3,0a1.65,1.65 0 1,0 -3.3,0M291.5,1005.8m-1.65,0a1.65,1.65 0 1,0 3.3,0a1.65,1.65 0 1,0 -3.3,0M293.8,1008.5m-1.65,0a1.65,1.65 0 1,0 3.3,0a1.65,1.65 0 1,0 -3.3,0M296.2,1010.4m-1.65,0a1.65,1.65 0 1,0 3.3,0a1.65,1.65 0 1,0 -3.3,0M298.5,1011.7m-1.65,0a1.65,1.65 0 1,0 3.3,0a1.65,1.65 0 1,0 -3.3,0M300.9,1012.8m-1.65,0a1.65,1.65 0 1,0 3.3,0a1.65,1.65 0 1,0 -3.3,0M303.2,1011.6m-1.65,0a1.65,1.65 0 1,0 3.3,0a1.65,1.65 0 1,0 -3.3,0M304.4,1010.1m-1.65,0a1.65,1.65 0 1,0 3.3,0a1.65,1.65 0 1,0 -3.3,0M305.4,971.7m-1.65,0a1.65,1.65 0 1,0 3.3,0a1.65,1.65 0 1,0 -3.3,0" fill="#4A7EBB"/>
<path d="M164.2,1057H177.8" stroke="#BE4B48" stroke-width="0.9"/><circle cx="171" cy="1057" r="1.3" fill="#BE4B48"/><path d="M218.2,1057H232.2" stroke="#4A7EBB" stroke-width="1"/><circle cx="225.2" cy="1057" r="1.3" fill="#4A7EBB"/><text x="179.3" y="1059.1" font-size="6.4">Experiment</text><text x="233.8" y="1059.1" font-size="6.4">CFD</text>
</g></svg>
<!-- MESH CYCLONE -->
<div class="abs card" style="left:390px;top:672px;width:122.5px;height:391.5px;border-radius:11px"></div>
<svg id="mesh" width="1920" height="1080" viewBox="0 0 1920 1080">
<defs>
<linearGradient id="mb" x1="0" x2="1" y1="0" y2="0"><stop offset="0" stop-color="#0E2066"/><stop offset=".3" stop-color="#1F45B0"/><stop offset=".7" stop-color="#1A3A9C"/><stop offset="1" stop-color="#0E2270"/></linearGradient>
<linearGradient id="mb2" x1="0" x2="1" y1="0" y2="0"><stop offset="0" stop-color="#12287A"/><stop offset=".35" stop-color="#244FC2"/><stop offset=".75" stop-color="#1C3FA4"/><stop offset="1" stop-color="#102474"/></linearGradient>
<linearGradient id="mr" x1="0" x2="1" y1="0" y2="0"><stop offset="0" stop-color="#7C0404"/><stop offset=".45" stop-color="#C61010"/><stop offset="1" stop-color="#780303"/></linearGradient>
<pattern id="mg" width="2.2" height="2.2" patternUnits="userSpaceOnUse" patternTransform="rotate(-8)"><path d="M0,0H2.2M0,0V2.2" stroke="#0A1650" stroke-width=".45" opacity=".55"/></pattern>
<pattern id="mgr" width="2.2" height="2.2" patternUnits="userSpaceOnUse" patternTransform="rotate(-6)"><path d="M0,0H2.2M0,0V2.2" stroke="#500000" stroke-width=".45" opacity=".5"/></pattern>
</defs>
<!-- collector -->
<path id="colS" d="M441,996L449.2,1050.5A31,13.5 -7 0 0 509.1,1043.5L502.3,990Z" fill="url(#mr)"/>
<path d="M441,996L449.2,1050.5A31,13.5 -7 0 0 509.1,1043.5L502.3,990Z" fill="url(#mgr)"/>
<path d="M442.9,1008.5A31,13.5 -7 0 0 504,1002.5" fill="none" stroke="#5E0303" stroke-width="1.3"/>
<ellipse cx="471.6" cy="993" rx="31" ry="13" transform="rotate(-6.3 471.6 993)" fill="#A60B0B"/>
<ellipse cx="471.6" cy="993" rx="31" ry="13" transform="rotate(-6.3 471.6 993)" fill="url(#mgr)"/>
<!-- cone + body -->
<path id="coneP" d="M416.7,794L422.5,854.5L460,990Q472,998 483.2,988L486.7,862L481.3,794Z" fill="url(#mb)"/>
<path d="M416.7,794L422.5,854.5L460,990Q472,998 483.2,988L486.7,862L481.3,794Z" fill="url(#mg)"/>
<!-- ring side -->
<path d="M397,772.6L399,800.6A45.4,17.5 -4 0 0 489.6,794.2L487.6,766.2Z" fill="url(#mb2)"/>
<path d="M397,772.6L399,800.6A45.4,17.5 -4 0 0 489.6,794.2L487.6,766.2Z" fill="url(#mg)"/>
<!-- scroll tail + top face -->
<path d="M450,752C468,744 490,747 497.4,761.5L497.4,763.3L485.4,766Z" fill="#1A3792"/>
<ellipse cx="442.3" cy="769.4" rx="45.4" ry="17.5" transform="rotate(-4 442.3 769.4)" fill="#173692" stroke="#0F2470" stroke-width=".8"/>
<ellipse cx="442.3" cy="769.4" rx="45.4" ry="17.5" transform="rotate(-4 442.3 769.4)" fill="url(#mg)"/>
<path d="M450,752C468,744 490,747 497.4,761.5" fill="none" stroke="#142B78" stroke-width="1"/>
<!-- inlet face -->
<path d="M485.4,765.6L497.4,763.3L501.6,790.2L490,792Z" fill="#7E0A66"/>
<!-- hole -->
<ellipse cx="438.5" cy="769" rx="28" ry="11.6" transform="rotate(-4 438.5 769)" fill="#1A3690" stroke="#0A1850" stroke-width="1.6"/>
<ellipse cx="439" cy="768.6" rx="24" ry="9.4" transform="rotate(-4 439 768.6)" fill="#18328A" stroke="#0E2066" stroke-width=".9"/>
<!-- tube -->
<path d="M415.2,686L425.2,768Q441,782 456.8,768L445.7,685Z" fill="url(#mb)"/>
<path d="M415.2,686L425.2,768Q441,782 456.8,768L445.7,685Z" fill="url(#mg)"/>

<ellipse cx="430.4" cy="685.3" rx="15.3" ry="5.6" transform="rotate(-3 430.4 685.3)" fill="#25250F" stroke="#1A3288" stroke-width="1"/>
</svg>
<!-- CYCLONES -->
<div class="abs card" style="left:597px;top:528px;width:66.75px;height:244.5px;border-radius:11px"></div>
<div class="abs card" style="left:683px;top:527.5px;width:84px;height:246.25px;border-radius:11px"></div>
<div class="abs card" style="left:787px;top:530.5px;width:83px;height:246.4px;border-radius:11px"></div>
<div class="abs card" style="left:891.25px;top:532.5px;width:82.5px;height:245.5px;border-radius:11px"></div>
<div class="abs card" style="left:994.25px;top:531px;width:83.25px;height:246px;border-radius:11px"></div>
<svg id="cyc" width="1920" height="1080" viewBox="0 0 1920 1080">
<defs>
<linearGradient id="cg" x1="0" x2="1" y1="0" y2="0"><stop offset="0" stop-color="#9EA3CE"/><stop offset=".35" stop-color="#BABEE2"/><stop offset=".7" stop-color="#A9AED6"/><stop offset="1" stop-color="#878CBC"/></linearGradient>
<linearGradient id="cg2" x1="0" x2="1" y1="0" y2="0"><stop offset="0" stop-color="#A9AED6"/><stop offset=".4" stop-color="#C3C7E7"/><stop offset="1" stop-color="#969BC8"/></linearGradient>
<style>.tf{fill:rgba(120,128,184,.33);stroke:rgba(70,76,125,.55);stroke-width:.5}.to{fill:none;stroke:rgba(70,76,125,.55);stroke-width:.5}.tl{fill:rgba(120,128,184,.13);stroke:rgba(70,76,125,.55);stroke-width:.5}.te{fill:rgba(120,128,184,.07);stroke:rgba(70,76,125,.55);stroke-width:.5}</style>

<clipPath id="cc0"><rect x="597" y="528" width="66.75" height="244.5" rx="11"/></clipPath>
<clipPath id="cc1"><rect x="683" y="527.5" width="84" height="246.25" rx="11"/></clipPath>
<clipPath id="cc2"><rect x="787" y="530.5" width="83" height="246.4" rx="11"/></clipPath>
<clipPath id="cc3"><rect x="891.25" y="532.5" width="82.5" height="245.5" rx="11"/></clipPath>
<clipPath id="cc4"><rect x="994.25" y="531" width="83.25" height="246" rx="11"/></clipPath>
</defs>
<g clip-path="url(#cc0)">
<path d="M614.2,725L617,764A19,7.6 -3 0 0 655,762L653.3,723A19.6,7.8 -3 0 1 614.2,725Z" fill="url(#cg)" stroke="#4B5084" stroke-width=".5"/><ellipse cx="633.8" cy="724" rx="19.6" ry="7.8" transform="rotate(-3 633.8 724)" fill="#C0C4E5" stroke="#4B5084" stroke-width=".5"/>
<path d="M609.8,641L627.6,727.4A7.2,2.9 -3 0 0 642,726.6L649,639A19.6,7.8 -3 0 1 609.8,641Z" fill="url(#cg)" stroke="#4B5084" stroke-width=".5"/>
<path d="M607,588.8L609.8,641A19.6,8 -3 0 0 649,639L646.8,586.8A19.9,8.2 -3 0 1 607,588.8Z" fill="url(#cg)" stroke="#4B5084" stroke-width=".5"/><ellipse cx="626.9" cy="587.8" rx="19.9" ry="8.2" transform="rotate(-3 626.9 587.8)" fill="#C0C4E5" stroke="#4B5084" stroke-width=".5"/>
<path d="M613.5,596.5L624,597.5L616.5,602Z" fill="#6E739F"/>
<path d="M617.9,605.6L641.3,594.8L641.3,611L617.9,623.1Z" fill="#A4A8D2" stroke="#4B5084" stroke-width=".5"/>
<path d="M612.8,603.2L617.9,605.6L617.9,623.1L612.8,620.1Z" fill="#B9BDE1" stroke="#4B5084" stroke-width=".5"/>
<path d="M612.8,603.2L636.5,592.4L641.3,594.8L617.9,605.6Z" fill="#C6C9E8" stroke="#4B5084" stroke-width=".5"/>
<path d="M614,536.3L617,589.5A9.6,4.8 -3 0 0 636.2,588.5L633.8,535.3A9.9,5 -3 0 1 614,536.3Z" fill="url(#cg2)" stroke="#4B5084" stroke-width=".5"/><ellipse cx="623.9" cy="535.8" rx="9.9" ry="5" transform="rotate(-3 623.9 535.8)" fill="#C0C4E5" stroke="#4B5084" stroke-width=".5"/>
<path d="M614.6,603L616.8,650L628.8,729M616.9,537.5L619,588" stroke="#4B5084" stroke-width=".4" fill="none"/>
<path d="M626.6,587.8L619.1,592.6" stroke="#3A5BE0" stroke-width="0.9"/><path d="M617.3,593.8L618.3,591.3L620,593.9Z" fill="#3A5BE0"/><path d="M626.6,587.8L636.5,591.9" stroke="#E03030" stroke-width="0.9"/><path d="M639.6,593.2L635.9,593.3L637,590.5Z" fill="#E03030"/><path d="M626.6,587.8L626.2,574.8" stroke="#1E9E3A" stroke-width="1.1"/><path d="M626.1,570.8L627.7,574.8L624.7,574.8Z" fill="#1E9E3A"/>
</g>
<g clip-path="url(#cc1)">
<path d="M717.3,725.3L724.3,767.9A16,11.5 -10.3 0 0 755.7,762.1L747.7,719.7A15.5,11.2 -10.3 0 1 717.3,725.3Z" fill="url(#cg)" stroke="#4B5084" stroke-width=".5"/><ellipse cx="732.5" cy="722.5" rx="15.5" ry="11.2" transform="rotate(-10.3 732.5 722.5)" fill="#C0C4E5" stroke="#4B5084" stroke-width=".5"/>
<path d="M704.3,653.1L728.2,724.9A5.2,3.7 -10.3 0 0 738.4,723.1L737.7,646.9A17,12.2 -10.3 0 1 704.3,653.1Z" fill="url(#cg)" stroke="#4B5084" stroke-width=".5"/>
<path d="M697.3,613.1L704.3,653.1A17,12.2 -10.3 0 0 737.7,646.9L730.7,606.9A17,12.2 -10.3 0 1 697.3,613.1Z" fill="url(#cg)" stroke="#4B5084" stroke-width=".5"/>
<path d="M705,562C722,557 736,566 738.4,587L739.8,604.4L733,605L731.1,588.2Z" fill="#C2C6E6" stroke="#4B5084" stroke-width=".5"/>
<path d="M684.7,594.3L687.9,611.3A24,19.2 -10.3 0 0 735.1,602.7L731.9,585.7A24,19.2 -10.3 0 1 684.7,594.3Z" fill="url(#cg)" stroke="#4B5084" stroke-width=".5"/><ellipse cx="708.3" cy="590" rx="24" ry="19.2" transform="rotate(-10.3 708.3 590)" fill="#C9CCEA" stroke="#4B5084" stroke-width=".5"/>
<path d="M731.1,588.2L738.4,587L739.8,604.4L733,605Z" fill="#A5A9D4" stroke="#4B5084" stroke-width=".5"/>
<ellipse cx="708.3" cy="590" rx="17.5" ry="14" transform="rotate(-10.3 708.3 590)" fill="#C3C6E6" stroke="#2E3360" stroke-width=".9"/>
<path d="M690.2,537.9L699.8,593.4A7.8,6.6 -10.3 0 0 715.2,590.6L706.4,534.9A8.2,7 -10.3 0 1 690.2,537.9Z" fill="url(#cg2)" stroke="#4B5084" stroke-width=".5"/><ellipse cx="698.3" cy="536.4" rx="8.2" ry="7" transform="rotate(-10.3 698.3 536.4)" fill="#C6C9E8" stroke="#4B5084" stroke-width=".5"/>
<path d="M707.5,590.5L703.8,595.7" stroke="#3A5BE0" stroke-width="0.9"/><path d="M702.5,597.5L702.6,594.8L705,596.6Z" fill="#3A5BE0"/><path d="M707.5,590.5L714.6,590.5" stroke="#E03030" stroke-width="0.9"/><path d="M718,590.5L714.6,592L714.6,589Z" fill="#E03030"/><path d="M707.5,590.5L705.6,579.4" stroke="#1E9E3A" stroke-width="1.1"/><path d="M704.9,575.5L707.1,579.2L704.1,579.7Z" fill="#1E9E3A"/>
</g>
<g clip-path="url(#cc2)">
<path d="M815.1,725.2L819.4,765.6A17,8.5 -4.8 0 0 853.2,762.8L849.9,722.4A17.5,8.8 -4.8 0 1 815.1,725.2Z" fill="url(#cg)" stroke="#4B5084" stroke-width=".5"/><ellipse cx="832.5" cy="723.8" rx="17.5" ry="8.8" transform="rotate(-4.8 832.5 723.8)" fill="#C0C4E5" stroke="#4B5084" stroke-width=".5"/>
<path d="M809.8,649.9L826.4,727.5A5.6,2.8 -4.8 0 0 837.6,726.5L843.2,647.1A16.8,8.4 -4.8 0 1 809.8,649.9Z" fill="url(#cg)" stroke="#4B5084" stroke-width=".5"/>
<path d="M807.1,613.4L809.8,649.9A16.8,8.4 -4.8 0 0 843.2,647.1L840.9,610.6A17,8.5 -4.8 0 1 807.1,613.4Z" fill="url(#cg)" stroke="#4B5084" stroke-width=".5"/>
<path d="M826,575.5Q850,576 854.5,591L856,609L851.5,616.5L844.5,614L844.5,600Z" fill="#B5B9DE" stroke="#4B5084" stroke-width=".5"/>
<path d="M797.4,593.9L799.1,613.1A25,15.5 -4.8 0 0 848.9,608.9L847.2,589.7A25,15.5 -4.8 0 1 797.4,593.9Z" fill="url(#cg)" stroke="#4B5084" stroke-width=".5"/><ellipse cx="822.3" cy="591.8" rx="25" ry="15.5" transform="rotate(-4.8 822.3 591.8)" fill="#C9CCEA" stroke="#4B5084" stroke-width=".5"/>
<path d="M844.5,600.5L854.3,590.5L855.5,608.5L851.2,616.5L844.6,614Z" fill="#A5A9D4" stroke="#4B5084" stroke-width=".5"/>
<ellipse cx="822.3" cy="591.8" rx="18" ry="11.2" transform="rotate(-4.8 822.3 591.8)" fill="#B9BCDF" stroke="#2E3360" stroke-width=".9"/>
<ellipse cx="822.6" cy="592.5" rx="15" ry="9.3" transform="rotate(-4.8 822.6 592.5)" fill="#AEB2D8" stroke="#4B5084" stroke-width=".5"/>
<path d="M809.7,539.5L813.8,596.7A8.8,5.3 -4.8 0 0 831.4,595.3L827.7,538.1A9,5.4 -4.8 0 1 809.7,539.5Z" fill="url(#cg2)" stroke="#4B5084" stroke-width=".5"/><ellipse cx="818.7" cy="538.8" rx="9" ry="5.4" transform="rotate(-4.8 818.7 538.8)" fill="#C6C9E8" stroke="#4B5084" stroke-width=".5"/>
<path d="M822.5,592.5L817.6,597" stroke="#3A5BE0" stroke-width="0.9"/><path d="M816,598.5L816.6,595.9L818.6,598.1Z" fill="#3A5BE0"/><path d="M822.5,592.5L830.1,593.5" stroke="#E03030" stroke-width="0.9"/><path d="M833.5,594L829.9,595L830.3,592.1Z" fill="#E03030"/><path d="M822.5,592.5L821.5,581.5" stroke="#1E9E3A" stroke-width="1.1"/><path d="M821.2,577.5L823,581.4L820.1,581.6Z" fill="#1E9E3A"/>
</g>
<g clip-path="url(#cc3)">
<path d="M924.4,729.4L928.5,765.8A16.6,7 -6.4 0 0 961.5,762.2L958.1,725.6A17,7.1 -6.4 0 0 924.4,729.4Z" class="tf"/><ellipse cx="941.2" cy="727.5" rx="17" ry="7.1" transform="rotate(-6.4 941.2 727.5)" class="te"/><ellipse cx="945" cy="764" rx="16.6" ry="7" transform="rotate(-6.4 945 764)" class="te"/>
<path d="M913.1,615.8L916.4,649.3L935.4,727.6A5.6,2.4 -6.4 0 0 946.6,726.4L948.6,645.7L945.9,612.2A16.5,6.9 -6.4 0 0 913.1,615.8Z" class="tf"/><ellipse cx="929.5" cy="614" rx="16.5" ry="6.9" transform="rotate(-6.4 929.5 614)" class="to"/><ellipse cx="932.5" cy="647.5" rx="16.2" ry="6.8" transform="rotate(-6.4 932.5 647.5)" class="to"/><ellipse cx="941" cy="727" rx="5.6" ry="2.4" transform="rotate(-6.4 941 727)" class="to"/>
<path d="M930,583Q952,582 957.2,590.6L959,606L952.4,614L950.6,597.8Z" class="tf"/>
<path d="M902.9,598.2L904.5,614.3A25,12 -6.4 0 0 954.1,608.7L952.5,592.6A25,12 -6.4 0 0 902.9,598.2Z" class="tf"/><ellipse cx="927.7" cy="595.4" rx="25" ry="12" transform="rotate(-6.4 927.7 595.4)" class="te"/><ellipse cx="929.3" cy="611.5" rx="25" ry="12" transform="rotate(-6.4 929.3 611.5)" class="te"/>
<path d="M910.3,597.3L911.9,613.4A17.5,8.4 -6.4 0 0 946.7,609.6L945.1,593.5A17.5,8.4 -6.4 0 0 910.3,597.3Z" class="tl"/><ellipse cx="927.7" cy="595.4" rx="17.5" ry="8.4" transform="rotate(-6.4 927.7 595.4)" class="te"/><ellipse cx="929.3" cy="611.5" rx="17.5" ry="8.4" transform="rotate(-6.4 929.3 611.5)" class="te"/>
<path d="M920,605L921.1,615.5A8.6,4.1 -6.4 0 0 938.1,613.5L937,603A8.6,4.1 -6.4 0 0 920,605Z" class="tl"/><ellipse cx="928.5" cy="604" rx="8.6" ry="4.1" transform="rotate(-6.4 928.5 604)" class="te"/><ellipse cx="929.6" cy="614.5" rx="8.6" ry="4.1" transform="rotate(-6.4 929.6 614.5)" class="te"/>
<path d="M912.2,546.9L917.7,596.9A8.4,4.2 -6.4 0 0 934.3,595.1L928.8,545.1A8.4,4.2 -6.4 0 0 912.2,546.9Z" class="tf"/><ellipse cx="920.5" cy="546" rx="8.4" ry="4.2" transform="rotate(-6.4 920.5 546)" class="te"/><ellipse cx="926" cy="596" rx="8.4" ry="4.2" transform="rotate(-6.4 926 596)" class="te"/>
<path d="M919.3,536L945.2,767" stroke="rgba(70,76,125,.7)" stroke-width=".8"/>
<ellipse cx="941.4" cy="729" rx="3.4" ry="1.5" transform="rotate(0 941.4 729)" class="te"/>
<path d="M925.6,589.8L921.2,594.2" stroke="#3A5BE0" stroke-width="0.9"/><path d="M919.6,595.8L920.1,593.2L922.2,595.3Z" fill="#3A5BE0"/><path d="M925.6,589.8L932.2,590.5" stroke="#E03030" stroke-width="0.9"/><path d="M935.6,590.8L932.1,592L932.4,589Z" fill="#E03030"/><path d="M925.6,589.8L924.5,579.8" stroke="#1E9E3A" stroke-width="1.1"/><path d="M924.1,575.8L926,579.6L923,579.9Z" fill="#1E9E3A"/>
</g>
<g clip-path="url(#cc4)">
<path d="M1025.1,721L1027.8,758.5A14.2,6 -4.1 0 0 1056.2,756.5L1053.9,719A14.4,6 -4.1 0 0 1025.1,721Z" class="tf"/><ellipse cx="1039.5" cy="720" rx="14.4" ry="6" transform="rotate(-4.1 1039.5 720)" class="te"/><ellipse cx="1042" cy="757.5" rx="14.2" ry="6" transform="rotate(-4.1 1042 757.5)" class="te"/>
<path d="M1035.7,724.3L1040.8,754.1A1.2,0.5 -4.1 0 0 1043.2,753.9L1043.7,723.7A4,1.7 -4.1 0 0 1035.7,724.3Z" class="tl"/><ellipse cx="1039.7" cy="724" rx="4" ry="1.7" transform="rotate(-4.1 1039.7 724)" class="te"/><ellipse cx="1042" cy="754" rx="1.2" ry="0.5" transform="rotate(-4.1 1042 754)" class="te"/>
<path d="M1016,613L1018.5,641L1034.6,717.8A4.6,2.5 -4.1 0 0 1043.8,717.2L1046.5,639L1045.2,611A14.6,8 -4.1 0 0 1016,613Z" class="tf"/><ellipse cx="1030.6" cy="612" rx="14.6" ry="8" transform="rotate(-4.1 1030.6 612)" class="to"/><ellipse cx="1032.5" cy="640" rx="14" ry="7.7" transform="rotate(-4.1 1032.5 640)" class="to"/><ellipse cx="1039.2" cy="717.5" rx="4.6" ry="2.5" transform="rotate(-4.1 1039.2 717.5)" class="to"/>
<path d="M1033,577Q1052,577 1055.3,590.6L1057.1,606.2L1051.7,608L1049.9,591.8Z" class="tf"/>
<path d="M1008.4,592.2L1009.4,606.6A22.9,14.2 -4.1 0 0 1055,603.4L1054,589A22.9,14.2 -4.1 0 0 1008.4,592.2Z" class="tf"/><ellipse cx="1031.2" cy="590.6" rx="22.9" ry="14.2" transform="rotate(-4.1 1031.2 590.6)" class="te"/><ellipse cx="1032.2" cy="605" rx="22.9" ry="14.2" transform="rotate(-4.1 1032.2 605)" class="te"/>
<path d="M1014.7,591.8L1015.7,606.2A16.5,10.2 -4.1 0 0 1048.7,603.8L1047.7,589.4A16.5,10.2 -4.1 0 0 1014.7,591.8Z" class="tl"/><ellipse cx="1031.2" cy="590.6" rx="16.5" ry="10.2" transform="rotate(-4.1 1031.2 590.6)" class="te"/><ellipse cx="1032.2" cy="605" rx="16.5" ry="10.2" transform="rotate(-4.1 1032.2 605)" class="te"/>
<path d="M1023.6,597.6L1024.4,608.6A8,5 -4.1 0 0 1040.4,607.4L1039.6,596.4A8,5 -4.1 0 0 1023.6,597.6Z" class="tl"/><ellipse cx="1031.6" cy="597" rx="8" ry="5" transform="rotate(-4.1 1031.6 597)" class="te"/><ellipse cx="1032.4" cy="608" rx="8" ry="5" transform="rotate(-4.1 1032.4 608)" class="te"/>
<path d="M1018.9,539.9L1022.9,592.5A6.9,4.1 -4.1 0 0 1036.7,591.5L1032.7,538.9A6.9,4.1 -4.1 0 0 1018.9,539.9Z" class="tf"/><ellipse cx="1025.8" cy="539.4" rx="6.9" ry="4.1" transform="rotate(-4.1 1025.8 539.4)" class="te"/><ellipse cx="1029.8" cy="592" rx="6.9" ry="4.1" transform="rotate(-4.1 1029.8 592)" class="te"/>
<path d="M1025.6,536L1042,756" stroke="rgba(70,76,125,.6)" stroke-width=".6"/>
<path d="M1028.8,589.5L1024.7,594.3" stroke="#3A5BE0" stroke-width="0.9"/><path d="M1023.3,596L1023.6,593.4L1025.9,595.3Z" fill="#3A5BE0"/><path d="M1028.8,589.5L1035.4,589.8" stroke="#E03030" stroke-width="0.9"/><path d="M1038.8,590L1035.3,591.3L1035.5,588.3Z" fill="#E03030"/><path d="M1028.8,589.5L1028.1,579.5" stroke="#1E9E3A" stroke-width="1.1"/><path d="M1027.8,575.5L1029.6,579.4L1026.6,579.6Z" fill="#1E9E3A"/>
</g>
</svg>
<!-- ARROW + STEPS -->
<svg id="steps" width="1920" height="1080" viewBox="0 0 1920 1080">
<defs>
<linearGradient id="ag" x1="0" x2="0" y1="0" y2="1"><stop offset="0" stop-color="#4C7BD2"/><stop offset=".5" stop-color="#4472C8"/><stop offset="1" stop-color="#3A66BC"/></linearGradient>
<linearGradient id="og" x1="0" x2="0" y1="0" y2="1"><stop offset="0" stop-color="#F08A4A"/><stop offset=".5" stop-color="#EF7B2C"/><stop offset="1" stop-color="#EC6F1C"/></linearGradient>
<filter id="sh" x="-20%" y="-20%" width="140%" height="150%"><feGaussianBlur in="SourceAlpha" stdDeviation="2.2"/><feOffset dx="0" dy="2.5"/><feComponentTransfer><feFuncA type="linear" slope=".45"/></feComponentTransfer><feMerge><feMergeNode/><feMergeNode in="SourceGraphic"/></feMerge></filter>
</defs>
<path d="M627,819.9H1089.7V811L1133.5,828.9L1089.7,846.5V837.9H627Z" fill="url(#ag)" filter="url(#sh)"/>
<g filter="url(#sh)" fill="url(#og)">
<circle cx="626.7" cy="829.6" r="32.3"/><circle cx="725.6" cy="829.6" r="32.3"/><circle cx="828.3" cy="829.6" r="32.3"/><circle cx="932" cy="829.6" r="32.3"/><circle cx="1032.6" cy="829.6" r="32.3"/>
</g>
<g fill="#fff" font-size="32.6" text-anchor="middle">
<text x="626.7" y="842.1" textLength="16.2" lengthAdjust="spacingAndGlyphs">1</text><text x="725.2" y="842.1" textLength="16.2" lengthAdjust="spacingAndGlyphs">2</text><text x="828" y="842.1" textLength="16.2" lengthAdjust="spacingAndGlyphs">3</text><text x="931.8" y="842.1" textLength="16.2" lengthAdjust="spacingAndGlyphs">4</text><text x="1032.4" y="842.1" textLength="16.2" lengthAdjust="spacingAndGlyphs">5</text>
</g>
</svg>
<!-- EFFICIENCY CHART -->
<div class="abs card" style="left:1210px;top:506px;width:639px;height:381px;border-radius:58px;box-shadow:-7px 7px 9px rgba(95,70,0,.6)"></div>
<svg id="eff" width="1920" height="1080" viewBox="0 0 1920 1080">
<path d="M1281.1,793.4H1812.2M1281.1,772.7H1812.2M1281.1,752H1812.2M1281.1,731.3H1812.2M1281.1,710.5H1812.2M1281.1,689.8H1812.2M1281.1,669.1H1812.2M1281.1,648.4H1812.2M1281.1,627.7H1812.2M1281.1,607H1812.2M1281.1,586.2H1812.2M1281.1,565.5H1812.2M1281.1,565.5V793.4M1347.5,565.5V793.4M1413.9,565.5V793.4M1480.3,565.5V793.4M1546.7,565.5V793.4M1613,565.5V793.4M1679.4,565.5V793.4M1745.8,565.5V793.4M1812.2,565.5V793.4" stroke="#C3D4EC" stroke-width="1" fill="none"/>
<path d="M1281.1,565.5V793.4H1812.2" stroke="#9CB9E2" stroke-width="1.2" fill="none"/>
<g font-size="12" font-weight="700" fill="#44546A"><text x="1269.3" y="797.6" text-anchor="end">0</text><text x="1269.3" y="776.9" text-anchor="end">10</text><text x="1269.3" y="756.2" text-anchor="end">20</text><text x="1269.3" y="735.5" text-anchor="end">30</text><text x="1269.3" y="714.7" text-anchor="end">40</text><text x="1269.3" y="694" text-anchor="end">50</text><text x="1269.3" y="673.3" text-anchor="end">60</text><text x="1269.3" y="652.6" text-anchor="end">70</text><text x="1269.3" y="631.9" text-anchor="end">80</text><text x="1269.3" y="611.2" text-anchor="end">90</text><text x="1269.3" y="590.5" text-anchor="end">100</text><text x="1269.3" y="569.7" text-anchor="end">110</text><text x="1281.1" y="814.6" text-anchor="middle" textLength="52" lengthAdjust="spacingAndGlyphs">0.00E+00</text><text x="1347.5" y="814.6" text-anchor="middle" textLength="52" lengthAdjust="spacingAndGlyphs">1.00E-06</text><text x="1413.9" y="814.6" text-anchor="middle" textLength="52" lengthAdjust="spacingAndGlyphs">2.00E-06</text><text x="1480.3" y="814.6" text-anchor="middle" textLength="52" lengthAdjust="spacingAndGlyphs">3.00E-06</text><text x="1546.7" y="814.6" text-anchor="middle" textLength="52" lengthAdjust="spacingAndGlyphs">4.00E-06</text><text x="1613" y="814.6" text-anchor="middle" textLength="52" lengthAdjust="spacingAndGlyphs">5.00E-06</text><text x="1679.4" y="814.6" text-anchor="middle" textLength="52" lengthAdjust="spacingAndGlyphs">6.00E-06</text><text x="1745.8" y="814.6" text-anchor="middle" textLength="52" lengthAdjust="spacingAndGlyphs">7.00E-06</text><text x="1812.2" y="814.6" text-anchor="middle" textLength="52" lengthAdjust="spacingAndGlyphs">8.00E-06</text></g>
<g fill="#44546A" font-weight="700" style="font-family:'DejaVu Sans',sans-serif" direction="rtl">
<text class="fa" x="1531" y="538" font-size="17" text-anchor="middle" textLength="162" lengthAdjust="spacingAndGlyphs">راندمان جداسازی ذرات</text>
<text class="fa" x="1547.4" y="834" font-size="9.5" text-anchor="middle" textLength="39" lengthAdjust="spacingAndGlyphs">قطر ذرات</text>
<text class="fa" transform="translate(1238,679.5) rotate(-90)" font-size="9.5" text-anchor="middle" textLength="63" lengthAdjust="spacingAndGlyphs">درصد جداسازی</text>
</g>
<path d="M1300,775.6L1313.3,768.4L1365.6,713.3L1408.9,649.3L1451.6,614L1494.4,592.9L1537.8,587.1L1581.9,586.2L1625.2,586.2L1667.8,586.2L1710.4,586.2L1731.9,586.2" fill="none" stroke="#4A86C8" stroke-width="1.1" stroke-linejoin="round" stroke-linecap="round"/><path fill="#4A86C8" d="M1300,775.6m-3,0a3,3 0 1,0 6,0a3,3 0 1,0 -6,0M1313.3,768.4m-3,0a3,3 0 1,0 6,0a3,3 0 1,0 -6,0M1365.6,713.3m-3,0a3,3 0 1,0 6,0a3,3 0 1,0 -6,0M1408.9,649.3m-3,0a3,3 0 1,0 6,0a3,3 0 1,0 -6,0M1451.6,614m-3,0a3,3 0 1,0 6,0a3,3 0 1,0 -6,0M1494.4,592.9m-3,0a3,3 0 1,0 6,0a3,3 0 1,0 -6,0M1537.8,587.1m-3,0a3,3 0 1,0 6,0a3,3 0 1,0 -6,0M1581.9,586.2m-3,0a3,3 0 1,0 6,0a3,3 0 1,0 -6,0M1625.2,586.2m-3,0a3,3 0 1,0 6,0a3,3 0 1,0 -6,0M1667.8,586.2m-3,0a3,3 0 1,0 6,0a3,3 0 1,0 -6,0M1710.4,586.2m-3,0a3,3 0 1,0 6,0a3,3 0 1,0 -6,0M1731.9,586.2m-3,0a3,3 0 1,0 6,0a3,3 0 1,0 -6,0"/>
<path d="M1300,786.7L1313.3,779.6L1365.6,731.6L1408.9,671.1L1451.6,624L1494.4,598.2L1537.8,588.4L1581.9,586.9L1625.2,586.5L1667.8,586.2L1710.4,586.2L1731.9,586.2" fill="none" stroke="#D8403A" stroke-width="1.1" stroke-linejoin="round" stroke-linecap="round"/><path fill="#D8403A" d="M1300,786.7m-3,0a3,3 0 1,0 6,0a3,3 0 1,0 -6,0M1313.3,779.6m-3,0a3,3 0 1,0 6,0a3,3 0 1,0 -6,0M1365.6,731.6m-3,0a3,3 0 1,0 6,0a3,3 0 1,0 -6,0M1408.9,671.1m-3,0a3,3 0 1,0 6,0a3,3 0 1,0 -6,0M1451.6,624m-3,0a3,3 0 1,0 6,0a3,3 0 1,0 -6,0M1494.4,598.2m-3,0a3,3 0 1,0 6,0a3,3 0 1,0 -6,0M1537.8,588.4m-3,0a3,3 0 1,0 6,0a3,3 0 1,0 -6,0M1581.9,586.9m-3,0a3,3 0 1,0 6,0a3,3 0 1,0 -6,0M1625.2,586.5m-3,0a3,3 0 1,0 6,0a3,3 0 1,0 -6,0M1667.8,586.2m-3,0a3,3 0 1,0 6,0a3,3 0 1,0 -6,0M1710.4,586.2m-3,0a3,3 0 1,0 6,0a3,3 0 1,0 -6,0M1731.9,586.2m-3,0a3,3 0 1,0 6,0a3,3 0 1,0 -6,0"/>
<path d="M1300,778.9L1313.3,770L1365.6,709.3L1408.9,656L1451.6,618.2L1494.4,592.2L1537.8,588.9L1581.9,587.5L1625.2,587.2L1667.8,587L1710.4,587L1731.9,587" fill="none" stroke="#9BBB59" stroke-width="2.8" stroke-linejoin="round" stroke-linecap="round"/><path fill="#9BBB59" d="M1300,775.3l3.6,6.3h-7.2zM1313.3,766.4l3.6,6.3h-7.2zM1365.6,705.7l3.6,6.3h-7.2zM1408.9,652.4l3.6,6.3h-7.2zM1451.6,614.6l3.6,6.3h-7.2zM1494.4,588.6l3.6,6.3h-7.2zM1537.8,585.3l3.6,6.3h-7.2zM1581.9,583.9l3.6,6.3h-7.2zM1625.2,583.6l3.6,6.3h-7.2zM1667.8,583.4l3.6,6.3h-7.2zM1710.4,583.4l3.6,6.3h-7.2zM1731.9,583.4l3.6,6.3h-7.2z"/>
<path d="M1300,773.8L1313.3,765.6L1365.6,698.9L1408.9,636.7L1451.6,615.6L1494.4,593.8L1537.8,587.8L1581.9,586.5L1625.2,586.2L1667.8,586.2L1710.4,586.2L1731.9,586.2" fill="none" stroke="#8064A2" stroke-width="2.8" stroke-linejoin="round" stroke-linecap="round"/><path fill="none" stroke="#8064A2" stroke-width="1" d="M1296.8,770.6l6.4,6.4M1296.8,777l6.4,-6.4M1310.1,762.4l6.4,6.4M1310.1,768.8l6.4,-6.4M1362.4,695.7l6.4,6.4M1362.4,702.1l6.4,-6.4M1405.7,633.5l6.4,6.4M1405.7,639.9l6.4,-6.4M1448.4,612.4l6.4,6.4M1448.4,618.8l6.4,-6.4M1491.2,590.6l6.4,6.4M1491.2,597l6.4,-6.4M1534.6,584.6l6.4,6.4M1534.6,591l6.4,-6.4M1578.7,583.3l6.4,6.4M1578.7,589.8l6.4,-6.4M1622,583l6.4,6.4M1622,589.5l6.4,-6.4M1664.6,583l6.4,6.4M1664.6,589.5l6.4,-6.4M1707.2,583l6.4,6.4M1707.2,589.5l6.4,-6.4M1728.7,583l6.4,6.4M1728.7,589.5l6.4,-6.4"/>
<path d="M1300,768.9L1313.3,758.2L1365.6,692.2L1408.9,628.4L1451.6,603.3L1494.4,588.9L1537.8,586.2L1581.9,585.8L1625.2,586L1667.8,586L1710.4,586L1731.9,586" fill="none" stroke="#4BACC6" stroke-width="2.8" stroke-linejoin="round" stroke-linecap="round"/><path fill="none" stroke="#4BACC6" stroke-width="1" d="M1296.8,765.7l6.4,6.4M1296.8,772.1l6.4,-6.4M1300,765.7v6.4M1310.1,755l6.4,6.4M1310.1,761.4l6.4,-6.4M1313.3,755v6.4M1362.4,689l6.4,6.4M1362.4,695.4l6.4,-6.4M1365.6,689v6.4M1405.7,625.2l6.4,6.4M1405.7,631.6l6.4,-6.4M1408.9,625.2v6.4M1448.4,600.1l6.4,6.4M1448.4,606.5l6.4,-6.4M1451.6,600.1v6.4M1491.2,585.7l6.4,6.4M1491.2,592.1l6.4,-6.4M1494.4,585.7v6.4M1534.6,583l6.4,6.4M1534.6,589.4l6.4,-6.4M1537.8,583v6.4M1578.7,582.5l6.4,6.4M1578.7,589l6.4,-6.4M1581.9,582.5v6.4M1622,582.8l6.4,6.4M1622,589.2l6.4,-6.4M1625.2,582.8v6.4M1664.6,582.8l6.4,6.4M1664.6,589.2l6.4,-6.4M1667.8,582.8v6.4M1707.2,582.8l6.4,6.4M1707.2,589.2l6.4,-6.4M1710.4,582.8v6.4M1728.7,582.8l6.4,6.4M1728.7,589.2l6.4,-6.4M1731.9,582.8v6.4"/>
<path fill="#4A86C8" d="M1494.4,592.9m-3,0a3,3 0 1,0 6,0a3,3 0 1,0 -6,0M1537.8,587.1m-3,0a3,3 0 1,0 6,0a3,3 0 1,0 -6,0M1581.9,586.2m-3,0a3,3 0 1,0 6,0a3,3 0 1,0 -6,0M1625.2,586.2m-3,0a3,3 0 1,0 6,0a3,3 0 1,0 -6,0M1667.8,586.2m-3,0a3,3 0 1,0 6,0a3,3 0 1,0 -6,0M1710.4,586.2m-3,0a3,3 0 1,0 6,0a3,3 0 1,0 -6,0M1731.9,586.2m-3,0a3,3 0 1,0 6,0a3,3 0 1,0 -6,0"/>
<path d="M1279.5,870.4H1307" stroke="#4BACC6" stroke-width="2.8" stroke-linecap="round"/><path d="M1290,867.2l6.4,6.4M1290,873.6l6.4,-6.4M1293.2,867v6.8" stroke="#4BACC6" stroke-width="1" fill="none"/><path d="M1442.5,870.4H1470" stroke="#8064A2" stroke-width="2.8" stroke-linecap="round"/><path d="M1453,867.2l6.4,6.4M1453,873.6l6.4,-6.4" stroke="#8064A2" stroke-width="1" fill="none"/><path d="M1507.5,870.4H1535" stroke="#9BBB59" stroke-width="2.8" stroke-linecap="round"/><path d="M1521.2,866.8l3.6,6.3h-7.2z" fill="#9BBB59"/><path d="M1597.4,870.4H1627" stroke="#D8403A" stroke-width="1.1" stroke-linecap="round"/><circle cx="1612.2" cy="870.4" r="3" fill="#D8403A"/><path d="M1686.3,870.4H1716" stroke="#4A86C8" stroke-width="1.1" stroke-linecap="round"/><circle cx="1701.2" cy="870.4" r="3" fill="#4A86C8"/>
<g fill="#44546A" font-weight="700" font-size="9.5" style="font-family:'DejaVu Sans',sans-serif" direction="rtl">
<text class="fa" x="1366.8" y="874" text-anchor="middle" textLength="114.4" lengthAdjust="spacingAndGlyphs">بخش جمع‌آوری کننده ذرات</text>
<text class="fa" x="1481.3" y="874" text-anchor="middle" textLength="16" lengthAdjust="spacingAndGlyphs">بدنه</text>
<text class="fa" x="1558.2" y="874" text-anchor="middle" textLength="41.5" lengthAdjust="spacingAndGlyphs">گردابه‌یاب</text>
<text class="fa" x="1648.2" y="874" text-anchor="middle" textLength="40.5" lengthAdjust="spacingAndGlyphs">حالت مبنا</text>
<text class="fa" x="1751.7" y="874" text-anchor="middle" textLength="69.3" lengthAdjust="spacingAndGlyphs">ورودی مارپیچی</text>
</g>
</svg>
<!-- TABLE -->
<svg id="tbl" width="1920" height="1080" viewBox="0 0 1920 1080">
<rect x="596" y="906" width="680" height="149.3" fill="#fff"/>
<rect x="597" y="907.1" width="215.6" height="47.8" fill="#5B9BD5"/>
<rect x="814.6" y="907.1" width="92.3" height="47.8" fill="#5B9BD5"/>
<rect x="909.1" y="907.1" width="104.7" height="47.8" fill="#5B9BD5"/>
<rect x="1016.1" y="907.1" width="258.5" height="47.8" fill="#5B9BD5"/>
<rect x="597" y="961" width="215.6" height="22.8" fill="#5B9BD5"/>
<rect x="814.6" y="961" width="92.3" height="22.8" fill="#D2DEEF"/>
<rect x="909.1" y="961" width="104.7" height="22.8" fill="#D2DEEF"/>
<rect x="1016.1" y="961" width="258.5" height="22.8" fill="#D2DEEF"/>
<rect x="597" y="986.3" width="215.6" height="24.7" fill="#5B9BD5"/>
<rect x="814.6" y="986.3" width="92.3" height="24.7" fill="#EAEFF7"/>
<rect x="909.1" y="986.3" width="104.7" height="24.7" fill="#EAEFF7"/>
<rect x="1016.1" y="986.3" width="258.5" height="24.7" fill="#EAEFF7"/>
<rect x="597" y="1013" width="215.6" height="41.1" fill="#5B9BD5"/>
<rect x="814.6" y="1013" width="92.3" height="41.1" fill="#D2DEEF"/>
<rect x="909.1" y="1013" width="104.7" height="41.1" fill="#D2DEEF"/>
<rect x="1016.1" y="1013" width="258.5" height="41.1" fill="#D2DEEF"/>
<defs><filter id="ts" x="-5%" y="-30%" width="110%" height="160%"><feDropShadow dx="0.3" dy="0.5" stdDeviation="0.7" flood-color="#1F3F66" flood-opacity=".55"/></filter></defs>
<g fill="#fff" font-weight="700" filter="url(#ts)">
<text x="625.6" y="939" font-size="14.5" textLength="159.4" lengthAdjust="spacingAndGlyphs">Performance parameter</text>
<text x="823.4" y="939" font-size="14.5" textLength="75.1" lengthAdjust="spacingAndGlyphs">Basic mode</text>
<text x="922.8" y="939" font-size="14.5" textLength="77.2" lengthAdjust="spacingAndGlyphs">Last change</text>
<text x="1026" y="939" font-size="14.5" textLength="237.4" lengthAdjust="spacingAndGlyphs">Percentage of change from base (%)</text>
<text x="647.2" y="977.3" font-size="14.5" textLength="116.8" lengthAdjust="spacingAndGlyphs">(<tspan font-weight="400" font-size="12">Pa</tspan>)Pressure drop</text>
<text x="623.8" y="1005.4" font-size="14.5" textLength="163.5" lengthAdjust="spacingAndGlyphs">(%)Separation efficiency</text>
<text x="644" y="1029" font-size="14.5" textLength="119.4" lengthAdjust="spacingAndGlyphs">Particle cut of size</text>
<text x="659.8" y="1051" font-size="14.5" textLength="87.7" lengthAdjust="spacingAndGlyphs">(micrometer)</text>
</g>
<g fill="#000" font-size="16" text-anchor="middle">
<text x="860.8" y="977.3">1386.3</text>
<text x="961.5" y="977.3">1572.842</text>
<text x="1145.3" y="977.3">%13.45</text>
<text x="860.8" y="1005.4">76.3582</text>
<text x="961.5" y="1005.4">89.24</text>
<text x="1145.3" y="1005.4">%16.87</text>
<text x="860.8" y="1040.3">1.73</text>
<text x="961.5" y="1040.3">1.3</text>
<text x="1145.3" y="1040.3">%-24.85</text>
</g></svg>
<!-- HEADINGS -->
<svg id="heads" width="1920" height="1080" viewBox="0 0 1920 1080">
<text x="356.6" y="105.6" font-size="32" font-weight="700" fill="#385723" textLength="1457.6" lengthAdjust="spacingAndGlyphs">Numerical study of the effect of combining flow control methods to improve cyclone performance</text>
<g fill="#92D050" font-size="28.3">
<text x="353" y="209.8" font-weight="700" textLength="114.2" lengthAdjust="spacingAndGlyphs">Student:</text>
<text x="474.6" y="209.8" textLength="426.1" lengthAdjust="spacingAndGlyphs">Arman Moghaddaszadeh Bazaz –</text>
<text x="908" y="209.8" font-weight="700" textLength="151.8" lengthAdjust="spacingAndGlyphs">Supervisor:</text>
<text x="1066.8" y="209.8" textLength="243.8" lengthAdjust="spacingAndGlyphs">Dr. Saeed Karimian</text>
</g>
<g fill="#92D050" font-size="18.2">
<text x="1317.5" y="210" textLength="82.5" lengthAdjust="spacingAndGlyphs">– Contact:</text>
<text x="1405.3" y="210" font-size="19" style="font-family:'Liberation Serif',serif" textLength="202.5" lengthAdjust="spacingAndGlyphs">karimian@modares.ac.ir,</text>
<text x="1611.8" y="210" textLength="205.4" lengthAdjust="spacingAndGlyphs">Phone: +98 21-82884933</text>
</g>
<g fill="#fff" font-weight="700" font-size="43.3">
<text x="186.8" y="302" textLength="178.6" lengthAdjust="spacingAndGlyphs">Methods</text>
<text x="1122" y="302" textLength="201.8" lengthAdjust="spacingAndGlyphs">Outcomes</text>
</g>
<g fill="#fff">
<text x="1539.8" y="953.9" font-size="27.3" font-weight="700" textLength="227.6" lengthAdjust="spacingAndGlyphs">Financial Sources</text>
<rect x="1539" y="958" width="229" height="2.2"/>
<text x="1427.6" y="1004.4" font-size="24.5" textLength="412.2" lengthAdjust="spacingAndGlyphs">This study was not supported by any</text>
<text x="1427.6" y="1035.6" font-size="24.5" textLength="91" lengthAdjust="spacingAndGlyphs">funding.</text>
</g>
</svg>
</body>
</html>
